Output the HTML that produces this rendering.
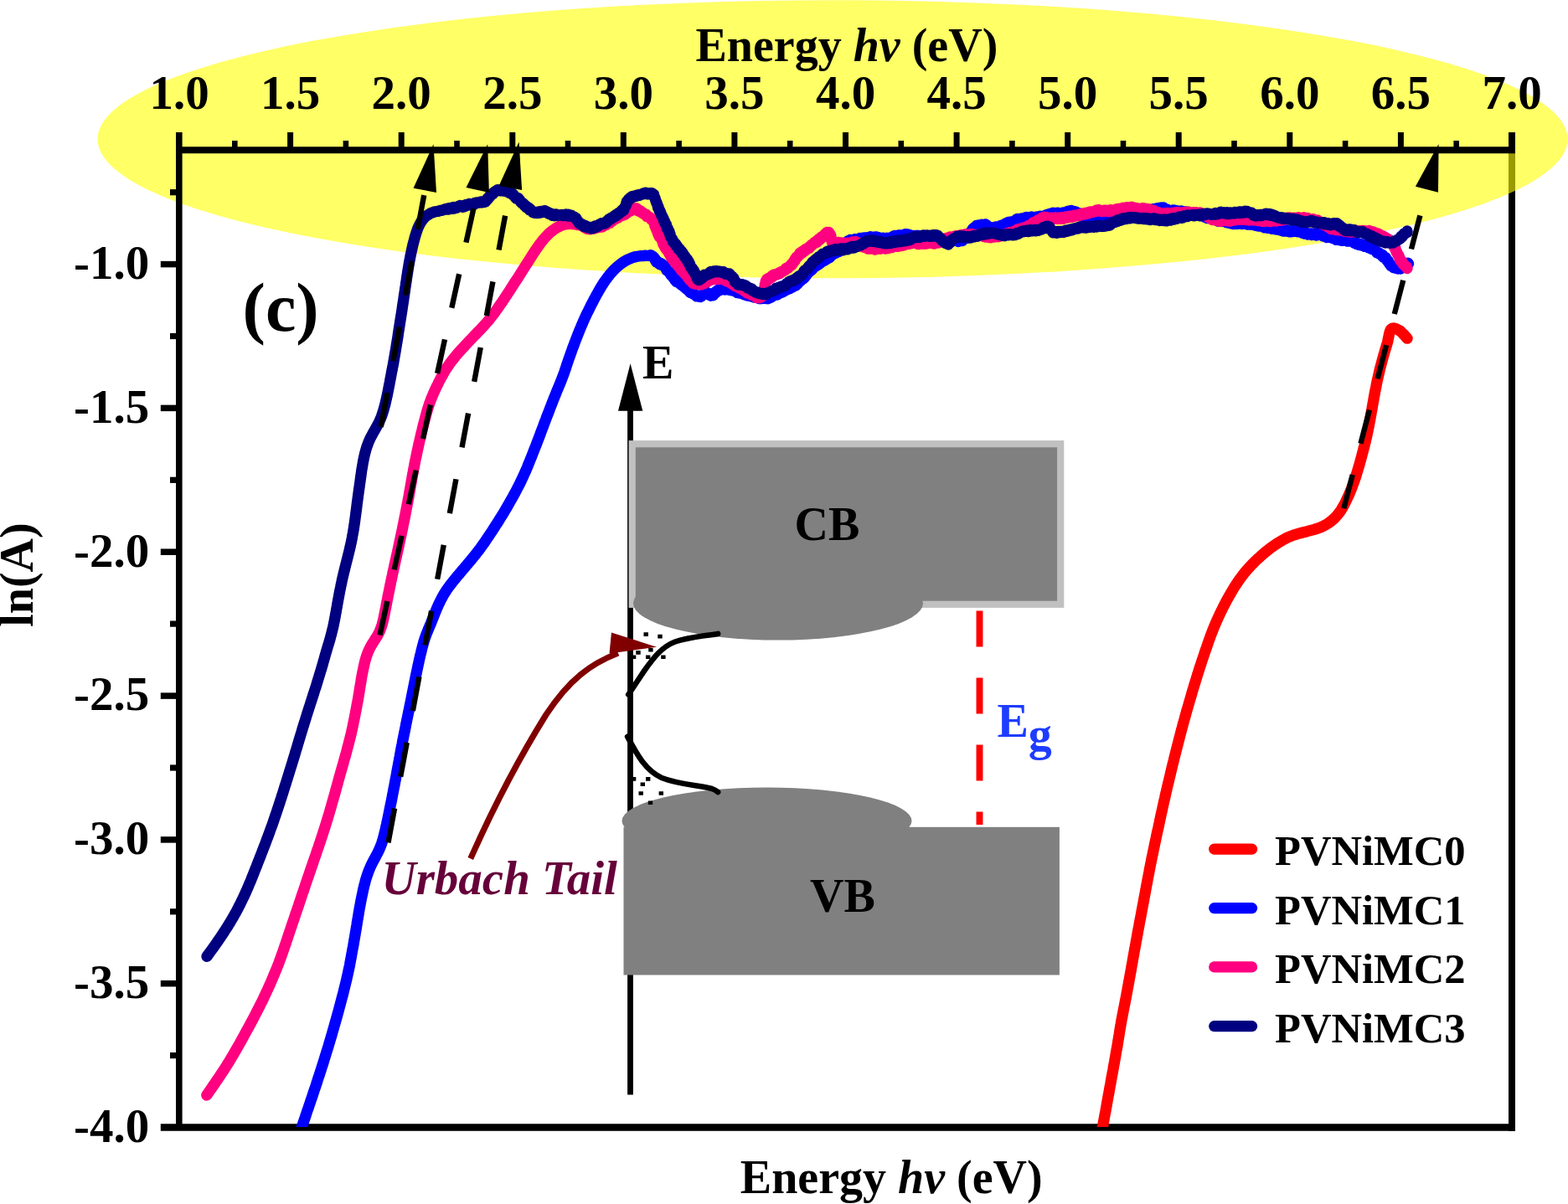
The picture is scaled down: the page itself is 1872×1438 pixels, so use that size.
<!DOCTYPE html>
<html lang="en">
<head>
<meta charset="utf-8">
<title>ln(A) - Energy hv (eV)</title>
<style>
html,body{margin:0;padding:0;background:#fff;}
body{width:1872px;height:1438px;overflow:hidden;}
svg{display:block;font-family:"Liberation Serif","Times New Roman",serif;font-weight:bold;}
text{font-size:56px;fill:#000;}
.lg{font-size:50.6px;}
.tk{font-size:57px;}
.cv{fill:none;stroke-linecap:round;stroke-linejoin:round;stroke-width:13.3;}
.ar{fill:none;stroke:#000;stroke-width:6.4;stroke-dasharray:41.5 38.5;}
</style>
</head>
<body>
<svg width="1872" height="1438" viewBox="0 0 1872 1438">
<defs><clipPath id="plot"><rect x="210" y="175" width="1599" height="1171"/></clipPath></defs>
<rect x="0" y="0" width="1872" height="1438" fill="#fff"/>
<g id="axes-under" stroke="#000" fill="none">
<line x1="1805" y1="175.2" x2="1805" y2="1350.8" stroke-width="8"/>
<line x1="191.8" y1="1346.5" x2="1809" y2="1346.5" stroke-width="8.6"/>
</g>
<ellipse id="hl" cx="994" cy="166.2" rx="877.5" ry="166" fill="#ffff00" fill-opacity="0.6"/>
<g id="axes-over" stroke="#000" fill="none">
<line x1="210.3" y1="179.2" x2="1809" y2="179.2" stroke-width="8"/>
<line x1="213.8" y1="158" x2="213.8" y2="1350" stroke-width="7.6"/>
<line x1="280.3" y1="168" x2="280.3" y2="179" stroke-width="6.6"/>
<line x1="346.6" y1="158" x2="346.6" y2="179" stroke-width="7"/>
<line x1="412.9" y1="168" x2="412.9" y2="179" stroke-width="6.6"/>
<line x1="479.2" y1="158" x2="479.2" y2="179" stroke-width="7"/>
<line x1="545.5" y1="168" x2="545.5" y2="179" stroke-width="6.6"/>
<line x1="611.8" y1="158" x2="611.8" y2="179" stroke-width="7"/>
<line x1="678" y1="168" x2="678" y2="179" stroke-width="6.6"/>
<line x1="744.3" y1="158" x2="744.3" y2="179" stroke-width="7"/>
<line x1="810.6" y1="168" x2="810.6" y2="179" stroke-width="6.6"/>
<line x1="876.9" y1="158" x2="876.9" y2="179" stroke-width="7"/>
<line x1="943.2" y1="168" x2="943.2" y2="179" stroke-width="6.6"/>
<line x1="1009.5" y1="158" x2="1009.5" y2="179" stroke-width="7"/>
<line x1="1075.8" y1="168" x2="1075.8" y2="179" stroke-width="6.6"/>
<line x1="1142.1" y1="158" x2="1142.1" y2="179" stroke-width="7"/>
<line x1="1208.4" y1="168" x2="1208.4" y2="179" stroke-width="6.6"/>
<line x1="1274.7" y1="158" x2="1274.7" y2="179" stroke-width="7"/>
<line x1="1341" y1="168" x2="1341" y2="179" stroke-width="6.6"/>
<line x1="1407.2" y1="158" x2="1407.2" y2="179" stroke-width="7"/>
<line x1="1473.5" y1="168" x2="1473.5" y2="179" stroke-width="6.6"/>
<line x1="1539.8" y1="158" x2="1539.8" y2="179" stroke-width="7"/>
<line x1="1606.1" y1="168" x2="1606.1" y2="179" stroke-width="6.6"/>
<line x1="1672.4" y1="158" x2="1672.4" y2="179" stroke-width="7"/>
<line x1="1738.7" y1="168" x2="1738.7" y2="179" stroke-width="6.6"/>
<line x1="1805" y1="158" x2="1805" y2="179" stroke-width="8"/>
<line x1="203" y1="229.7" x2="214" y2="229.7" stroke-width="7.2"/>
<line x1="191.8" y1="315.6" x2="214" y2="315.6" stroke-width="7.5"/>
<line x1="203" y1="401.5" x2="214" y2="401.5" stroke-width="7.2"/>
<line x1="191.8" y1="487.4" x2="214" y2="487.4" stroke-width="7.5"/>
<line x1="203" y1="573.3" x2="214" y2="573.3" stroke-width="7.2"/>
<line x1="191.8" y1="659.2" x2="214" y2="659.2" stroke-width="7.5"/>
<line x1="203" y1="745.1" x2="214" y2="745.1" stroke-width="7.2"/>
<line x1="191.8" y1="831.1" x2="214" y2="831.1" stroke-width="7.5"/>
<line x1="203" y1="917" x2="214" y2="917" stroke-width="7.2"/>
<line x1="191.8" y1="1002.9" x2="214" y2="1002.9" stroke-width="7.5"/>
<line x1="203" y1="1088.8" x2="214" y2="1088.8" stroke-width="7.2"/>
<line x1="191.8" y1="1174.7" x2="214" y2="1174.7" stroke-width="7.5"/>
<line x1="203" y1="1260.6" x2="214" y2="1260.6" stroke-width="7.2"/>
</g>
<g id="inset">
<line x1="752.5" y1="488" x2="752.5" y2="1307.5" stroke="#000" stroke-width="6.8"/>
<polygon points="752.6,434.2 767.3,490.8 738,490.8" fill="#000"/>
<rect x="754.7" y="530.2" width="511.5" height="191.6" fill="#808080" stroke="#c0c0c0" stroke-width="8.2"/>
<ellipse cx="929" cy="720.5" rx="173" ry="44" fill="#808080"/>
<rect x="744.5" y="987.8" width="520.4" height="176.7" fill="#808080"/>
<ellipse cx="915.5" cy="980.5" rx="173" ry="40" fill="#808080"/>
<path d="M857.1 756.9C838 760 820 761.5 806 766.5C790 772.5 780 786 770 800C763 810 757 820 750.2 829.6" fill="none" stroke="#000" stroke-width="6.6" stroke-linecap="round"/>
<path d="M749.1 879.8C760 900 770 920 790 929C810 937 835 938 850 942C854 943.5 856 945 857.1 946" fill="none" stroke="#000" stroke-width="6.6" stroke-linecap="round"/>
<path d="M768.5 755.3h5.4v4.6h-5.4zM785.3 757.8h5.4v4.6h-5.4zM759.3 777.1h5.4v4.6h-5.4zM774.2 773.9h5.4v4.6h-5.4zM753.9 782.4h5.4v4.6h-5.4zM771 782.4h5.4v4.6h-5.4zM789.2 782.4h5.4v4.6h-5.4zM753.9 928.1h5.4v4.6h-5.4zM771 928.1h5.4v4.6h-5.4zM764.6 934.5h5.4v4.6h-5.4zM762.5 945.2h5.4v4.6h-5.4zM786.6 945.2h5.4v4.6h-5.4zM773.8 956.5h5.4v4.6h-5.4z" fill="#000"/>
<line x1="1169.5" y1="729.6" x2="1169.5" y2="985" stroke="#ff0000" stroke-width="7.9" stroke-dasharray="43 37"/>
<path d="M561.8 1025.5C590 962 620 905 652 853.5C680 811 705 793 738 780" fill="none" stroke="#800000" stroke-width="7.2"/>
<polygon points="730,755.5 784,772.7 727.5,780.5" fill="#800000"/>
</g>
<g id="curves" clip-path="url(#plot)">
<path class="cv" stroke="#ff0000" d="M1313.5 1360L1313.7 1359.1L1314.3 1356.5L1314.8 1353.7L1315.4 1351L1316 1348.1L1316.6 1345L1317.1 1342.1L1317.7 1339.2L1318.2 1336.3L1318.7 1333.4L1319.2 1330.6L1319.8 1327.8L1320.3 1324.8L1320.9 1321.7L1321.4 1318.6L1322 1315.3L1322.6 1312L1323.2 1308.6L1323.9 1305.2L1324.5 1301.7L1325.1 1298.2L1325.8 1294.7L1326.4 1291.2L1327 1287.7L1327.6 1284.3L1328.3 1280.9L1328.9 1277.6L1329.4 1274.4L1330 1271.2L1330.6 1268.2L1331.1 1265.2L1331.6 1262.3L1332.1 1259.5L1332.6 1256.5L1333.1 1253.6L1333.7 1250.6L1334.2 1247.5L1334.7 1244.3L1335.2 1241.2L1335.7 1238.2L1336.2 1235.3L1336.6 1232.6L1337 1230.1L1337.4 1227.6L1337.8 1225.1L1338.3 1222.6L1338.7 1220L1339.2 1217.3L1339.8 1214.5L1340.3 1211.6L1340.9 1208.6L1341.5 1205.5L1342.1 1202.5L1342.7 1199.4L1343.3 1196.4L1343.9 1193.4L1344.5 1190.4L1345 1187.4L1345.6 1184.4L1346.1 1181.4L1346.7 1178.4L1347.2 1175.4L1347.8 1172.4L1348.3 1169.4L1348.9 1166.3L1349.4 1163.3L1350 1160.3L1350.5 1157.3L1351 1154.2L1351.6 1151.3L1352.1 1148.3L1352.6 1145.3L1353.2 1142.3L1353.7 1139.3L1354.2 1136.3L1354.8 1133.3L1355.3 1130.3L1355.9 1127.2L1356.4 1124.2L1357 1121.2L1357.5 1118.1L1358.1 1115.1L1358.6 1112.1L1359.2 1109L1359.8 1106L1360.3 1102.9L1360.9 1099.9L1361.5 1096.8L1362.1 1093.7L1362.7 1090.6L1363.2 1087.5L1363.8 1084.4L1364.4 1081.3L1365 1078.2L1365.6 1075.1L1366.1 1072L1366.7 1069L1367.3 1065.9L1367.9 1062.8L1368.4 1059.7L1369 1056.6L1369.6 1053.6L1370.1 1050.5L1370.7 1047.5L1371.3 1044.5L1371.9 1041.4L1372.4 1038.4L1373 1035.5L1373.6 1032.5L1374.2 1029.6L1374.8 1026.6L1375.4 1023.7L1376 1020.8L1376.6 1017.9L1377.2 1015L1377.8 1012.1L1378.4 1009.2L1379 1006.2L1379.7 1003.3L1380.3 1000.3L1380.9 997.3L1381.6 994.3L1382.2 991.4L1382.9 988.4L1383.5 985.4L1384.2 982.4L1384.8 979.4L1385.5 976.3L1386.1 973.3L1386.8 970.3L1387.5 967.3L1388.1 964.3L1388.8 961.3L1389.4 958.3L1390.1 955.4L1390.8 952.4L1391.4 949.5L1392.1 946.5L1392.8 943.5L1393.5 940.5L1394.2 937.5L1394.9 934.6L1395.6 931.7L1396.3 928.8L1397 926L1397.6 923.1L1398.3 920.3L1399 917.4L1399.7 914.5L1400.4 911.6L1401.2 908.6L1401.9 905.6L1402.6 902.7L1403.4 899.7L1404.1 896.7L1404.9 893.8L1405.6 890.9L1406.4 888L1407.1 885.1L1407.8 882.3L1408.6 879.5L1409.3 876.7L1410 873.9L1410.8 871.1L1411.5 868.4L1412.2 865.6L1413 862.8L1413.8 860L1414.6 857.1L1415.4 854.2L1416.2 851.3L1417 848.3L1417.9 845.3L1418.8 842.4L1419.6 839.4L1420.5 836.4L1421.4 833.4L1422.2 830.5L1423.1 827.5L1423.9 824.6L1424.8 821.8L1425.6 818.9L1426.5 816.1L1427.4 813.3L1428.2 810.5L1429.1 807.7L1429.9 805L1430.8 802.2L1431.7 799.4L1432.6 796.5L1433.6 793.7L1434.5 790.8L1435.4 788L1436.4 785.1L1437.4 782.3L1438.3 779.4L1439.3 776.5L1440.3 773.7L1441.3 770.8L1442.3 767.9L1443.3 765L1444.4 762.1L1445.4 759.2L1446.5 756.3L1447.6 753.5L1448.7 750.7L1449.8 748L1451 745.3L1452.1 742.6L1453.3 740L1454.5 737.3L1455.7 734.7L1456.9 732.1L1458.2 729.5L1459.5 726.9L1460.8 724.2L1462.2 721.6L1463.5 719L1464.9 716.4L1466.4 713.8L1467.8 711.2L1469.3 708.6L1470.8 706.1L1472.3 703.5L1473.8 701.1L1475.4 698.6L1477 696.2L1478.6 693.8L1480.3 691.4L1482 689.1L1483.8 686.7L1485.6 684.4L1487.5 682.2L1489.4 679.9L1491.4 677.7L1493.5 675.4L1495.6 673.3L1497.7 671.1L1499.9 669L1502.1 666.9L1504.4 664.9L1506.6 662.9L1508.9 660.9L1511.2 659L1513.6 657.1L1515.9 655.3L1518.3 653.5L1520.8 651.8L1523.2 650.1L1525.8 648.4L1528.4 646.8L1531.1 645.2L1533.8 643.7L1536.6 642.3L1539.5 641L1542.4 639.9L1545.4 638.8L1548.4 637.9L1551.4 637L1554.4 636.2L1557.5 635.4L1560.5 634.7L1563.4 633.9L1566.4 633.1L1569.2 632.3L1572 631.4L1574.8 630.4L1577.5 629.4L1580.1 628.2L1582.6 626.9L1585.1 625.4L1587.4 623.8L1589.7 622L1591.9 620.1L1594 618.1L1596 615.9L1597.9 613.6L1599.7 611.2L1601.4 608.7L1603 606L1604.5 603.4L1605.9 600.6L1607.2 597.9L1608.5 595.2L1609.8 592.4L1611 589.7L1612.1 587L1613.2 584.4L1614.2 581.7L1615.2 579L1616.2 576.3L1617.1 573.6L1618.1 570.9L1619 568.1L1619.8 565.3L1620.7 562.5L1621.5 559.7L1622.4 556.8L1623.2 553.9L1624 551L1624.8 548.2L1625.6 545.3L1626.3 542.4L1627.1 539.6L1627.8 536.7L1628.6 533.9L1629.3 531.1L1630 528.2L1630.7 525.3L1631.4 522.4L1632 519.5L1632.7 516.5L1633.3 513.5L1633.9 510.5L1634.5 507.4L1635.1 504.3L1635.7 501.3L1636.2 498.2L1636.8 495.1L1637.3 492L1637.9 489L1638.4 485.9L1638.9 482.9L1639.5 479.9L1640 476.9L1640.5 473.9L1641.1 470.9L1641.6 467.9L1642.2 465L1642.8 462L1643.3 459.1L1643.9 456.3L1644.6 453.4L1645.2 450.6L1645.8 447.8L1646.5 445L1647.1 442.2L1647.8 439.4L1648.6 436.5L1649.4 433.5L1650.2 430.6L1651 427.6L1651.8 424.6L1652.7 421.6L1653.5 418.7L1654.4 416L1655.2 413.2L1656 410.6L1656.6 408.5L1656.9 407.2L1657.2 405.3L1657.7 403.1L1658.2 400.7L1658.7 398.2L1659.4 396L1660.1 394.2L1660.9 393L1662.5 392.1L1664.4 392L1666.4 392.6L1668.5 393.5L1670.5 394.6L1672 395.6L1673.5 397L1675.1 398.7L1676.7 400.3L1678.1 401.9L1679.2 403.3L1680.1 404.2"/>
<path class="cv" stroke="#0000ff" d="M356 1360L356.6 1358.1L357.4 1355.3L358.3 1352.5L359.2 1349.8L360.2 1346.9L361.1 1343.9L362.1 1341.1L363 1338.2L364 1335.4L365 1332.5L365.9 1329.6L366.9 1326.7L368 1323.7L369 1320.6L370.1 1317.5L371.1 1314.3L372.2 1311.2L373.3 1308L374.3 1304.9L375.3 1301.8L376.4 1298.8L377.4 1295.7L378.4 1292.7L379.3 1289.7L380.3 1286.7L381.3 1283.8L382.2 1280.8L383.2 1277.8L384.1 1274.9L385.1 1272L386 1269L386.9 1266.1L387.8 1263.2L388.7 1260.3L389.6 1257.4L390.5 1254.5L391.4 1251.6L392.3 1248.7L393.1 1245.9L394 1243L394.8 1240.2L395.7 1237.3L396.5 1234.5L397.3 1231.6L398.1 1228.8L398.9 1226L399.7 1223.2L400.5 1220.4L401.3 1217.6L402.1 1214.8L402.8 1212.1L403.6 1209.3L404.4 1206.5L405.1 1203.7L405.9 1200.9L406.6 1198L407.4 1195.2L408.1 1192.4L408.9 1189.6L409.6 1186.8L410.3 1184L411 1181.2L411.7 1178.3L412.4 1175.5L413.1 1172.7L413.8 1169.8L414.4 1166.9L415.1 1164L415.7 1161.1L416.3 1158.1L417 1155.2L417.6 1152.2L418.1 1149.2L418.7 1146.1L419.3 1143.1L419.8 1140.1L420.4 1137L420.9 1134L421.5 1131L422 1128.1L422.5 1125.1L423 1122.2L423.5 1119.3L424 1116.4L424.5 1113.4L425 1110.5L425.5 1107.5L426 1104.5L426.4 1101.6L426.9 1098.7L427.4 1095.8L427.9 1093L428.3 1090.1L428.8 1087.3L429.3 1084.4L429.9 1081.5L430.4 1078.5L431 1075.5L431.6 1072.5L432.2 1069.4L432.9 1066.4L433.5 1063.3L434.2 1060.3L434.9 1057.3L435.7 1054.4L436.4 1051.5L437.3 1048.6L438.2 1045.7L439.2 1042.9L440.2 1040.1L441.4 1037.3L442.6 1034.5L443.9 1031.8L445.3 1029.1L446.7 1026.4L448.2 1023.7L449.6 1021L451 1018.4L452.3 1015.7L453.5 1013L454.6 1010.3L455.6 1007.6L456.5 1004.8L457.3 1002L458.1 999.2L458.8 996.3L459.5 993.4L460.2 990.5L460.8 987.6L461.5 984.7L462.1 981.9L462.7 979.1L463.3 976.2L463.9 973.3L464.5 970.4L465.1 967.4L465.7 964.4L466.3 961.3L467 958.2L467.6 955L468.2 951.9L468.8 948.8L469.4 945.7L470 942.6L470.6 939.6L471.2 936.6L471.7 933.6L472.3 930.6L472.8 927.7L473.4 924.7L473.9 921.6L474.5 918.6L475.1 915.6L475.6 912.6L476.2 909.6L476.7 906.5L477.3 903.5L477.8 900.6L478.4 897.6L478.9 894.6L479.5 891.7L480.1 888.7L480.6 885.7L481.2 882.8L481.8 879.8L482.4 876.9L483 873.9L483.6 871L484.2 868.1L484.7 865.2L485.3 862.3L485.9 859.4L486.5 856.5L487.1 853.6L487.7 850.7L488.3 847.8L488.9 844.9L489.5 841.9L490.1 839L490.7 836L491.3 833L491.9 830L492.5 827L493.1 824L493.7 821L494.3 818L494.9 815L495.5 812L496.1 809.1L496.7 806.2L497.3 803.4L497.9 800.5L498.5 797.6L499.1 794.7L499.8 791.7L500.4 788.7L501.1 785.6L501.8 782.6L502.6 779.6L503.3 776.6L504 773.7L504.8 770.8L505.5 768.1L506.3 765.4L507.2 762.7L508.1 760.1L509 757.5L510.1 754.9L511.1 752.3L512.2 749.8L513.3 747.2L514.4 744.6L515.4 741.9L516.5 739.3L517.6 736.5L518.7 733.8L519.8 731L520.9 728.2L522.1 725.5L523.3 722.7L524.6 720L525.9 717.3L527.3 714.6L528.7 712L530.2 709.4L531.8 706.9L533.4 704.4L535.2 701.9L536.9 699.5L538.8 697.1L540.7 694.7L542.6 692.3L544.5 690L546.5 687.6L548.5 685.3L550.4 683L552.4 680.6L554.4 678.3L556.3 676L558.3 673.7L560.3 671.3L562.2 669L564.2 666.6L566.1 664.2L568.1 661.8L570 659.3L571.8 656.9L573.7 654.4L575.5 651.9L577.3 649.4L579 646.9L580.8 644.3L582.5 641.8L584.2 639.3L585.9 636.7L587.6 634.2L589.2 631.7L590.8 629.2L592.4 626.6L594 624.2L595.6 621.7L597.2 619.1L598.7 616.6L600.3 614.1L601.8 611.6L603.3 609L604.8 606.5L606.3 603.9L607.8 601.3L609.2 598.7L610.7 596.1L612.2 593.5L613.6 590.9L615.1 588.2L616.5 585.5L617.9 582.8L619.3 580.1L620.7 577.4L622 574.6L623.3 571.9L624.6 569.1L625.8 566.4L627.1 563.6L628.3 560.8L629.5 558L630.6 555.2L631.8 552.4L632.9 549.5L634.1 546.7L635.2 543.9L636.3 541L637.4 538.2L638.5 535.3L639.7 532.5L640.8 529.6L641.9 526.7L643 523.8L644.1 521L645.2 518.1L646.2 515.2L647.3 512.4L648.4 509.6L649.4 506.8L650.5 503.9L651.6 501.1L652.6 498.3L653.7 495.5L654.8 492.7L655.9 489.9L656.9 487.1L658 484.4L659 481.7L660.1 479L661.1 476.3L662.2 473.7L663.3 471L664.3 468.4L665.4 465.7L666.5 463.1L667.6 460.4L668.7 457.8L669.8 455.2L670.8 452.5L671.8 449.9L672.8 447.2L673.8 444.5L674.7 441.7L675.7 438.9L676.6 436L677.6 433.1L678.6 430.2L679.6 427.3L680.6 424.5L681.6 421.7L682.6 418.8L683.6 416L684.7 413.2L685.7 410.4L686.8 407.5L687.9 404.7L689 401.8L690.1 399L691.3 396.1L692.4 393.3L693.6 390.5L694.8 387.6L696 384.8L697.3 382L698.5 379.2L699.8 376.4L701.1 373.7L702.5 371L703.8 368.3L705.1 365.6L706.5 362.9L707.9 360.3L709.2 357.6L710.7 355L712.1 352.3L713.6 349.7L715.1 347L716.6 344.4L718.1 341.9L719.7 339.4L721.3 336.9L723 334.5L724.7 332.2L726.4 329.9L728.3 327.6L730.1 325.5L732.1 323.3L734.1 321.3L736.2 319.3L738.3 317.5L740.6 315.6L743 313.9L745.4 312.3L748 310.8L750.7 309.5L753.5 308.3L756.4 307.3L759.4 306.5L762.5 306L765.6 305.7L766.4 305.7L767 305.7L767.4 305.6L768.6 305.5L769.4 305.3L770.3 305.2L771.2 305.3L772.4 305.4L773.4 305.4L774.8 305.4L775.9 305.5L776.7 304.7L777.6 305.1L778.1 305.8L779 306L780 306.8L780.2 307L781.1 308L781.5 308.6L781.7 309.6L782.5 309.8L783 311.9L783.5 312.6L783.6 313L784.8 312.4L785.1 313.2L785.9 313.8L786.5 314.8L786.9 313.6L787.7 314L788.4 316.1L789.6 314.7L790.2 315.6L790.8 316.1L791.8 317.1L792.4 316.9L793.1 317.6L794 319.7L794.5 319.2L794.9 320.5L795.7 322.2L796.1 323.1L796.8 322.9L797.2 323.5L798 323.9L798.5 324.6L798.8 325.3L799.7 325L800.1 326.4L800.9 328.2L801.2 328.8L802 328.3L802.4 328.7L803.2 330.5L803.8 331.6L804.2 332.3L804.7 331.8L805.5 332.5L805.9 334.9L806.5 334.3L807.3 336.3L808 335L809.1 335.6L809.8 337.1L810.5 338L811 338.1L811.4 338.6L812.4 339.2L812.9 339.9L814.1 339.2L814.5 340.8L815.6 340.9L815.8 341.4L816.8 342.8L817.3 342.5L818 343L818.7 343L819.5 345.3L820.2 345.5L820.8 346.1L821.9 346.8L822.4 347.1L823.2 348.6L823.7 347.6L824.7 349.7L825.2 349.2L826 349.1L826.4 349.5L827.2 350L827.5 351.1L828.5 350.8L829.4 351.9L830.4 352.9L830.8 352.7L831.4 353.7L832.2 353.4L832.9 353.8L833.9 353.5L834.9 354.2L835.4 354L836.3 354.5L836.9 353.4L837.8 353.6L838.4 352.7L839.6 351.6L840 350.5L841.1 350.8L842 350.7L842.3 349.1L843.1 349L844.2 350.5L845.1 349.8L845.8 350.6L846.2 352.1L846.7 351.5L847.9 352.4L848.5 353.3L849.7 352L850.1 352.7L850.8 351.9L851.5 352.8L852.1 351.3L852.6 350L853.7 348.9L854.5 349.7L854.8 348.9L855.7 348.1L856.7 346.7L857.4 347L858.3 345.9L859 347L859.7 346L860.1 345.6L861.1 345.7L862.2 345.3L862.7 345.3L863.8 344.4L864.8 345.4L865.2 346L866.1 344.9L867.3 345.6L868.1 345.8L869 345.3L869.7 344.9L871 346.4L871.7 346.5L872.4 345.6L873.2 346.9L873.8 346.3L874.8 347L875.6 346.5L876.5 347.4L877.6 347.4L878.5 347.4L879 347.8L879.8 349.6L881.1 348.6L881.7 349.2L883 350.1L883.9 349.8L884.4 349.6L885.2 349.9L886.2 349.6L886.9 351.1L887.6 351.4L888.9 352L889.5 351.6L890.5 352.1L891.6 352.5L892 353.1L893 352.9L894.1 352L895 353.6L895.7 353.6L896.5 353.1L897.4 353L898.3 354.4L899.1 354.4L900.3 355.2L900.7 355.1L901.9 353.9L902.6 354.5L903.4 355.3L904.8 355.1L905.7 356.1L906.2 356.6L907.4 356.8L908.4 356.4L909.1 356.5L910.3 356.6L910.9 356.3L911.8 354.9L912.4 355L913.3 355.3L914.3 356.5L915.1 356.1L915.9 355.9L916.8 356.8L917.6 355.3L918.8 356.1L919.2 355L920.1 355.1L920.7 353.5L921.4 354.6L922.1 353.7L922.9 352.9L923.6 353L924.5 351.9L925.3 351.9L926.5 351.4L926.9 351.9L927.9 352.1L928.5 351.2L929.5 350.1L930.6 350.2L930.9 350.3L931.8 350.1L932.8 348.6L933.5 349.2L934.5 348.8L935.5 348.5L936.2 346.6L937.1 347.3L938.2 346L938.7 346.3L940.1 345.7L940.4 344.1L941.3 344L942 343.3L943.1 344.6L943.6 344.3L944.5 343.4L945.6 343.2L945.8 341.5L947 342.4L947.4 340.8L948.7 340.1L949.2 340.1L950.1 341L950.6 340.2L951.6 339.7L952.3 339.2L952.9 337.4L953.5 337.4L954.4 335.7L954.9 335.9L955.8 335.4L956.3 334.5L956.9 334.3L957.6 333.3L958.7 333.1L958.9 331.7L960 331.8L960.6 331.5L961 330.8L961.7 329L962.1 327.7L962.7 328.8L963.1 327.4L963.7 325.9L964.6 325.6L964.9 324.9L965.9 325.2L966.1 323.9L967.4 323.2L967.8 323L968.6 322.7L969.3 322L969.6 320.6L970.2 321.3L970.9 319.1L972.1 318.8L972.8 318L973.2 317.7L974.1 317.9L974.7 317.6L975.6 316.2L976.2 315.9L976.6 316.1L977.7 315.6L978.2 314.5L979.1 314.4L979.6 313L980.6 312L981.4 312.8L982 312L982.9 310.6L983.5 311.7L984.3 310.1L985 309.2L985.8 310.2L987 309.6L987.9 308.7L988.7 308.1L989.2 308.3L990.2 307.7L990.8 306.8L991.5 306.7L992.5 304.8L993.2 304L993.4 304.7L994.2 303.9L995.1 302.6L996 302.5L996.6 302.2L997.6 302.5L998.1 300.7L998.8 300.8L999.3 299.8L1000.4 300.4L1001.2 300.5L1001.8 298.8L1002 298.3L1002.8 298.3L1003.6 297.5L1004.5 296.8L1005 297.5L1005.8 295.9L1006.1 296.2L1006.6 294.2L1007.5 294.4L1007.9 292.7L1008.5 293.4L1009.2 293.1L1010.1 292.4L1010.3 290.1L1010.9 289.8L1011.8 288.3L1012.7 287.7L1013.3 287.3L1014.5 287.4L1015.1 286.3L1016.2 287.3L1017 287.8L1017.8 286.4L1018.2 287.3L1019.5 286.6L1020.3 286.5L1020.9 285.6L1021.7 286.4L1023.1 286.7L1023.9 286.1L1025.1 286.2L1025.9 285.2L1026.8 284.5L1027.6 285.4L1029.1 285L1029.7 284.4L1030.7 285.1L1031.7 285.2L1032.4 283.8L1033.6 283.8L1034.6 284.4L1035.5 283.8L1035.8 283.7L1036.9 283.5L1037.5 283.9L1039 282.7L1039.9 283.3L1040.9 284.4L1042.1 283.8L1042.5 284.3L1043.3 283.2L1044.5 283.1L1045 284.3L1046.2 283.1L1046.6 283.3L1047.3 283.6L1048.6 283.5L1049 284L1049.7 284.9L1051.1 285.8L1051.9 285.7L1052.5 284.7L1054 284.3L1054.5 285.2L1055.4 285.3L1056.2 284.7L1057.7 284.5L1058.6 284.5L1059.6 285.5L1060.3 284.3L1060.8 285.4L1061.8 284.2L1063 285.3L1063.4 285.3L1064.5 283.8L1065.1 283.4L1066.4 282.7L1066.7 282L1067.4 282.2L1068.6 281.4L1069 282.9L1070.3 282.7L1070.6 281.3L1071.9 281.5L1072.7 280.9L1073.2 280.8L1074.4 281.7L1075.1 281L1075.9 281L1076.8 281.8L1077.4 281.1L1078.7 281.4L1079.2 281.5L1080.5 279.7L1081.1 279.7L1081.8 281.1L1083 281.2L1083.7 279.8L1085.1 281.6L1086.1 281.7L1086.7 282.1L1087.4 282L1088.5 281.2L1089.4 281.5L1090.2 281.6L1090.9 281.5L1091.9 282.7L1092.9 282.4L1093.7 281.3L1094.6 281.3L1094.9 281.7L1096.1 281.4L1096.9 281.3L1097.9 281.7L1098.5 282L1099.7 283L1100.4 282.1L1101.4 281.5L1102.3 283.2L1103.6 281.8L1104.4 282.7L1105.3 282.9L1105.6 283.5L1106.8 283.5L1107.7 284.3L1108.3 283.7L1109.2 284.1L1110 284.8L1111.3 284.8L1111.7 284.2L1112.8 285.2L1113.6 284.3L1114.6 284.6L1115.4 285L1116.9 285L1117.7 285.5L1118.7 285.5L1119.4 285L1120.2 285.7L1121.3 285.1L1122.5 285L1123 286.3L1124.2 285.1L1124.7 285.9L1125.6 286.8L1126.6 285.6L1127.7 286L1128.6 286.2L1129.7 285.8L1130.3 286.8L1131.6 285.3L1132.4 287L1133.7 285.9L1134.1 287L1135.3 288.1L1136.5 287.2L1137.2 287.7L1138.4 286.9L1139 286.6L1140 286.4L1141.1 287.3L1141.7 286.3L1142.3 287.2L1143.5 287.5L1143.9 288.5L1144.9 287.6L1145.3 287.2L1146.4 286.9L1147.2 287.6L1148.1 287.6L1149.3 287.4L1150.1 285.6L1150.4 285.6L1151.3 284.6L1152.4 283.9L1153 284.6L1153.2 283.8L1154 281.6L1154.5 280.5L1155.2 280.5L1156 280.9L1156.1 279.6L1156.9 278.8L1157.6 278.3L1158.6 277.9L1158.9 277L1159.6 276.8L1160.1 276.1L1160.6 275.1L1161.4 273.3L1162.1 272.9L1162.6 272.5L1163.4 271.5L1163.8 271.6L1165.1 270.6L1165.7 269.7L1166.8 270.2L1167.2 270L1168.6 269L1169.6 269.1L1170.1 269.5L1171.1 269.5L1172.2 268.2L1173.1 269.7L1173.9 268.9L1175 268.5L1175.6 268.7L1176.7 267.9L1177 269.3L1178 268.8L1178.8 270.6L1179.2 271.5L1180.1 271.7L1180.5 270.8L1181.7 272.7L1182.6 272.5L1184 272.1L1184.8 272.7L1185.3 271.7L1186.1 272.1L1187 271.6L1187.6 271.5L1188.4 272.1L1189.1 270.9L1190.3 271L1191.2 270.6L1191.9 271.1L1193.3 271.5L1194.1 270.1L1194.8 269.4L1195.9 270.3L1196.7 269.8L1197.9 268.3L1198.8 268.9L1199.7 267.7L1200.8 266.6L1201.5 267.8L1202.7 267L1203.6 265.4L1204.3 266.3L1204.8 265.7L1206.3 265.3L1207.1 264.8L1208 264.9L1208.7 265L1209.8 265.6L1210.4 264.9L1211.2 264.7L1211.9 263.6L1212.9 262.8L1213.4 261.9L1214.5 261.5L1215.4 261.9L1216.3 262.5L1217 261.4L1217.5 261.7L1218.8 262.3L1219.4 260.8L1220.8 261.7L1221.3 261.5L1221.9 261L1223.1 261L1223.7 260L1224.8 261.4L1225.4 259.4L1226.3 260.8L1227.4 260L1228.7 260.2L1229.2 260.2L1230 259.2L1231.3 259L1231.9 259.7L1233 260.6L1233.7 260.3L1234.8 260.3L1235.8 260L1236.6 259.1L1237.5 260.2L1238.3 259L1239.2 258.7L1239.9 259.6L1241 259.5L1241.9 258.2L1242.7 258.6L1243.7 258.9L1244.7 259.1L1245.8 258.6L1246.8 258.1L1247.5 257.4L1248.1 258.1L1249.3 256.4L1250.4 257.1L1251 256.6L1251.6 257.4L1252.4 255.9L1253.8 255.2L1254.3 255.7L1254.9 256.5L1256 254.5L1257 254.3L1258.1 256L1259.2 254.3L1259.9 254.7L1260.7 254.7L1261.5 254.3L1262.6 254.2L1263.7 254.2L1264.6 254.5L1264.9 255.7L1266.1 255.7L1267 255.5L1267.6 255.6L1268.8 255.9L1269.3 253.8L1270.6 255.2L1271.3 254.5L1272.2 253.5L1273 253.6L1273.6 252.8L1274.9 252.4L1275.6 252.2L1276.4 252.8L1277.5 253.3L1278.2 251.7L1279 251.5L1279.8 252.6L1280.9 252.1L1281.4 252.1L1282.2 253.2L1283.1 254.3L1284 253.4L1284.8 253L1285.7 254.7L1286.3 255L1287.1 254.3L1287.8 254.6L1288.9 256L1289.7 255.4L1290.6 256.6L1291.1 257.1L1292 256.9L1292.7 258.2L1293.7 259.2L1294.3 259.6L1295.5 259.8L1296.4 259.1L1297.1 261.1L1297.5 261L1298.8 260.5L1299.5 261.9L1300.1 260.5L1300.8 262L1301.8 261.1L1302.6 262.4L1303.4 260.7L1304.7 261.4L1305.4 262.8L1306.3 261.1L1307.4 261.5L1307.9 262.9L1308.7 262.6L1309.6 261.2L1310.4 261.5L1311.5 260.9L1312.4 260.5L1313.5 261.4L1314.4 261.2L1314.9 260L1315.9 259.8L1317.3 261.2L1318.2 260.5L1318.7 260.1L1319.6 261L1320.6 259.6L1321.9 259.4L1322.8 259.5L1323.6 259L1324.6 259.5L1325.2 259.8L1326.2 258.7L1326.8 259.1L1327.7 259.5L1328.7 257.8L1329.6 257.5L1330.5 258.4L1331.4 258L1332.2 258.4L1333.4 258.4L1334.3 258.5L1334.8 257.9L1336.2 258.5L1336.8 258.4L1338 258L1338.6 257.8L1339.4 258.1L1340.6 257.8L1341.4 257.5L1342.4 256.6L1343.4 256.1L1344.1 255.9L1344.9 255.7L1345.3 256L1346.6 256.5L1347.5 256.8L1347.8 255.5L1348.7 256.2L1349.8 256.1L1350.8 256.6L1351.6 256.1L1352.4 254.2L1353.5 254L1353.9 255.2L1355 254.6L1355.7 253.5L1357.1 253L1357.9 254.6L1358.7 254L1359.9 253.7L1360.8 253.8L1361.1 252.6L1362.3 253.9L1363 252.9L1363.8 253.1L1364.9 252.2L1366 251.2L1366.9 252.2L1367.9 251.1L1368.5 250.7L1369.8 251.2L1370.5 251.3L1371.6 250.8L1372.3 251.6L1373.5 250.5L1374 251.6L1375.3 250.7L1376 251.3L1376.9 249.7L1377.6 249.8L1378.8 249.5L1379.8 249.8L1380.3 249.5L1381.2 249.1L1381.9 248.7L1382.6 249L1383.1 248.9L1384.3 249L1385.3 248.3L1386.5 248.8L1387.2 248L1388 248.8L1389.1 247.9L1389.6 248.7L1390.8 249.6L1391.3 249.6L1392.1 251L1392.8 249.8L1393.5 251L1394.1 251.9L1395.1 251.1L1396.3 252L1397 252.7L1397.8 251.8L1398.3 252.2L1399.4 252L1400.2 250.9L1400.8 251.1L1401.7 252.4L1402.9 251.1L1403.9 252L1404.4 252.4L1405.4 253L1406.2 251.8L1407.2 253.1L1408.5 252.7L1409.1 252.5L1410.3 252L1411.5 253.7L1412.5 253.6L1413.3 254.4L1413.9 253.2L1414.6 253L1415.9 252.9L1416.7 253.6L1417.7 254.4L1418.5 254.7L1419 253.6L1420.2 254.2L1421.3 255.2L1422.3 255.5L1423.2 254.6L1424 255.6L1425.1 255L1425.8 255.7L1426.7 256.4L1427.4 256.1L1428.7 255.4L1429.6 256.1L1430.7 257.1L1431.4 257.3L1432.4 256.1L1433.2 257.6L1434.1 257.7L1434.5 256.8L1435.7 257.1L1436.7 258.1L1437.7 257.9L1438.2 259.3L1439.3 258.6L1440 259L1440.9 259.5L1441.4 260.5L1442.6 260.3L1443 259.3L1444.1 260.7L1444.8 259.7L1445.7 260.4L1446.3 260.8L1447.2 261.2L1448.2 262.1L1448.8 261.6L1450.3 262L1450.8 262.6L1451.3 262.8L1452.5 262.7L1453.1 263L1453.8 263.2L1454.7 264.3L1455.9 263.7L1456.7 263.5L1457.4 263L1458.5 264.3L1459.3 262.9L1460.2 262.8L1461 263.7L1461.6 263.9L1463 264.6L1463.6 265.4L1464.6 265.9L1465.5 264.5L1466.8 264.8L1467.4 266.4L1468.3 266.2L1469.7 266.5L1470.4 267L1471.5 266.8L1472.2 266.4L1472.9 267.7L1474.1 265.7L1474.4 266.1L1475.7 266L1476.1 267.1L1477 267.5L1478.1 267.4L1479.2 266L1480 266.5L1480.6 265.8L1481.8 266.8L1482.5 267.4L1483.3 266.8L1484.2 266.8L1485.5 267.3L1486 267L1487.2 267.3L1488.3 267.1L1489.2 268.1L1490.1 267.5L1490.5 267.1L1491.8 266.7L1492.4 268.2L1493.7 268.3L1494.6 267.7L1495.5 268.1L1496.2 267.7L1496.8 267.1L1497.8 268L1498.6 269.2L1499.8 268.9L1500.8 268.1L1501.7 269.8L1502.2 268.4L1503.4 270.2L1504.3 269.5L1505 269.2L1505.7 270L1506.8 269.7L1507.8 269.8L1508.7 270.5L1509.5 271.9L1510.5 271.3L1511.2 271L1512.1 270.7L1513 271.7L1513.4 272.4L1514.5 270.7L1515.3 270.9L1516.2 272.5L1517.6 272.6L1518.4 273.2L1519.2 272.5L1519.8 272.3L1520.9 272.6L1521.9 273L1522.7 273.6L1523.6 272.9L1524.3 274.1L1525.1 274.2L1526.5 273.9L1527.4 274.6L1528.2 274.6L1529 275.2L1529.6 275.1L1530.7 275.2L1531.7 276.1L1532.7 275.9L1533.2 275.7L1534.4 276.1L1534.9 274.6L1536.4 275L1537.2 275.6L1537.9 275.5L1538.9 276.8L1539.8 276.6L1540.6 276.6L1541.7 276.9L1542.8 275.5L1543.7 276.5L1544.2 276.1L1545 275.5L1546.3 276.4L1547.2 275.3L1547.6 275.8L1548.7 276.7L1549.5 276.9L1550.6 276.2L1551.6 275.9L1552.4 276.3L1553 277.1L1554.1 277.6L1554.9 278.4L1556.1 277.1L1556.5 279L1557.6 277.5L1558.3 278.9L1559.2 278.4L1560.3 278.6L1561.2 280L1562.1 279.5L1562.9 279.1L1563.8 279.8L1564.6 279.6L1565.6 279L1566.4 280.6L1566.9 279.2L1568.3 278.9L1569.1 280L1569.5 280.2L1570.4 280.7L1571.5 281L1572.7 279.5L1573.3 279.6L1574.4 279.7L1574.9 279.8L1576.3 280.2L1576.8 280.8L1577.9 280.8L1579 280.8L1579.6 282.1L1580.4 281L1581.7 281.6L1582.6 282.9L1583.2 282.2L1584 283.6L1585.1 282.6L1585.9 282.4L1587.3 282.3L1588 283.4L1588.9 283.2L1589.8 282.7L1590.9 284.5L1591.7 283.5L1592.9 283.8L1593.3 285L1594.6 285.2L1595.1 286.4L1596 285.3L1597.4 286.4L1598.1 285.1L1599.1 285.9L1599.4 286.9L1600.8 285.6L1601.4 287.3L1602.1 286.1L1603.2 286.4L1604.3 287.3L1605.2 287L1605.8 287L1607 286.8L1608 286.7L1608.7 288.2L1609.8 286.8L1611.1 287.8L1611.8 287.7L1612.4 288.1L1613.7 288.3L1614.6 288.7L1615.5 288.8L1616.1 289L1616.8 290.2L1617.7 290.4L1618.5 290.1L1619.4 291.5L1620.1 290.7L1621.4 291.2L1621.8 292.3L1622.6 290.8L1623.3 291.7L1624.6 291.7L1625.2 293.1L1626 291.9L1627.2 292.4L1628 292.7L1628.9 294.3L1629.7 293.4L1630.7 294.5L1631.2 293.8L1632.2 294.5L1632.9 295.1L1633.7 295.9L1634.6 294.8L1635.2 295L1636.1 296.8L1637 296.2L1638.1 297.7L1638.7 296.7L1639.2 297.6L1639.9 297.8L1640.6 298L1641.6 299.2L1642.3 299.5L1643.2 300.6L1643.7 301.5L1644.7 301.2L1645.8 302.7L1646.2 301.9L1647 303.1L1647.8 302.9L1648.6 303.6L1649.4 304.6L1649.9 305.6L1650.6 304.5L1651.2 305L1651.9 307.3L1652.9 307.3L1653 307.1L1653.6 307.9L1654.4 307.7L1655 309.3L1655.8 310.9L1656.2 311.3L1656.7 311.8L1657.4 311.8L1657.8 313.5L1658 313.7L1658.8 314.6L1658.9 315.2L1659.6 316L1660 316.4L1660.5 317.3L1661.5 317L1662.3 317.8L1663.4 319.5L1663.8 319.3L1664.8 318.4L1666 320.2L1666.8 320L1667.8 320.1L1668.5 320.5L1669.4 321.1L1670 320L1671.1 320.8L1671.9 321.1L1673.1 320.4L1673.8 320L1674.5 319.8L1675.3 319.5L1676.4 317.8L1676.8 318.1L1678 317.8L1678.7 317.4L1679.7 315.8L1680.6 315.4L1681 314.2L1681.5 315"/>
<path class="cv" stroke="#ff0080" d="M246.8 1308L247.9 1306.4L249.3 1304.3L250.9 1302.1L252.4 1299.9L254 1297.5L255.8 1295L257.5 1292.4L259.4 1289.7L261.2 1287L263.1 1284.2L264.9 1281.4L266.8 1278.7L268.5 1275.9L270.3 1273.2L271.9 1270.5L273.6 1267.9L275.2 1265.2L276.7 1262.6L278.3 1260L279.8 1257.4L281.3 1254.7L282.8 1252.1L284.4 1249.4L285.9 1246.8L287.4 1244.1L288.8 1241.4L290.3 1238.7L291.8 1236L293.3 1233.3L294.7 1230.7L296.2 1228L297.7 1225.3L299.1 1222.6L300.5 1220L302 1217.3L303.4 1214.5L304.8 1211.8L306.2 1209.1L307.6 1206.3L309 1203.6L310.4 1200.9L311.7 1198.2L313.1 1195.5L314.4 1192.8L315.6 1190.1L316.9 1187.4L318.1 1184.7L319.4 1182.1L320.6 1179.4L321.8 1176.7L323 1174.1L324.1 1171.4L325.3 1168.7L326.4 1166L327.6 1163.3L328.7 1160.6L329.8 1157.9L330.9 1155.1L332 1152.4L333.1 1149.6L334.1 1146.8L335.2 1143.9L336.2 1141L337.2 1138.2L338.2 1135.3L339.2 1132.4L340.2 1129.5L341.2 1126.7L342.1 1123.8L343.1 1121L344 1118.1L345 1115.3L345.9 1112.5L346.9 1109.6L347.9 1106.7L348.8 1103.8L349.8 1101L350.8 1098.1L351.8 1095.2L352.7 1092.3L353.7 1089.5L354.6 1086.7L355.6 1084L356.5 1081.3L357.3 1078.7L358.2 1076.2L359 1073.7L359.8 1071.3L360.6 1068.9L361.4 1066.5L362.3 1064.1L363.1 1061.7L363.9 1059.2L364.7 1056.7L365.6 1054.1L366.5 1051.4L367.4 1048.8L368.3 1046.2L369.2 1043.6L370.1 1040.9L371 1038.3L371.9 1035.6L372.9 1032.9L373.8 1030.1L374.8 1027.2L375.8 1024.3L376.9 1021.3L377.9 1018.2L378.9 1015.2L380 1012.1L381 1009L382.1 1005.9L383.1 1002.8L384.1 999.8L385.1 996.7L386.1 993.7L387 990.8L388 987.8L388.9 984.9L389.8 981.9L390.7 979L391.6 976L392.5 973.1L393.4 970.1L394.2 967.2L395.1 964.3L395.9 961.3L396.7 958.4L397.6 955.5L398.4 952.6L399.2 949.8L400 946.9L400.8 944.1L401.5 941.3L402.3 938.6L403.1 935.8L403.8 933L404.6 930.2L405.4 927.4L406.2 924.5L407 921.6L407.9 918.6L408.7 915.6L409.6 912.6L410.4 909.6L411.2 906.6L412.1 903.7L412.9 900.8L413.7 897.9L414.4 895L415.2 892.2L415.9 889.4L416.7 886.5L417.4 883.7L418.1 880.8L418.8 878L419.5 875.1L420.1 872.1L420.8 869.2L421.4 866.3L422 863.3L422.6 860.4L423.2 857.5L423.8 854.6L424.3 851.8L424.9 849L425.4 846.2L425.9 843.3L426.4 840.5L427 837.7L427.5 834.8L428 831.9L428.5 828.9L429 826L429.4 823L429.9 820.1L430.4 817.2L430.9 814.3L431.3 811.5L431.8 808.6L432.3 805.8L432.9 802.9L433.5 800L434.1 797.2L434.7 794.3L435.4 791.4L436.1 788.6L436.9 785.8L437.8 783L438.8 780.3L439.9 777.6L441.1 775L442.4 772.5L443.8 770L445.3 767.7L446.8 765.3L448.2 763L449.7 760.7L451 758.4L452.3 756.1L453.4 753.7L454.4 751.1L455.4 748.5L456.2 745.9L456.9 743.2L457.6 740.4L458.2 737.5L458.8 734.6L459.4 731.6L460 728.5L460.7 725.3L461.3 722L461.9 718.7L462.6 715.4L463.2 712L463.9 708.7L464.6 705.5L465.2 702.2L465.9 699L466.5 695.9L467.2 692.8L467.8 689.7L468.5 686.6L469.1 683.5L469.8 680.5L470.5 677.4L471.1 674.4L471.8 671.4L472.5 668.3L473.2 665.3L473.8 662.4L474.5 659.4L475.1 656.5L475.8 653.6L476.4 650.7L477 647.8L477.6 644.9L478.2 642L478.9 639.1L479.5 636.2L480.1 633.3L480.7 630.5L481.2 627.6L481.8 624.8L482.4 622L483 619.2L483.5 616.5L484.1 613.7L484.6 610.9L485.1 608.1L485.7 605.3L486.2 602.4L486.8 599.6L487.3 596.7L487.9 593.8L488.4 590.8L488.9 587.9L489.5 584.9L490 581.9L490.5 578.9L491.1 575.9L491.6 572.9L492.1 569.9L492.6 566.9L493.2 564L493.7 561L494.3 558.1L494.9 555.1L495.4 552.2L496 549.1L496.7 546.1L497.3 543.1L497.9 540.1L498.6 537.1L499.2 534.1L499.9 531.1L500.5 528.2L501.2 525.3L501.9 522.4L502.5 519.5L503.2 516.6L504 513.6L504.7 510.6L505.4 507.6L506.2 504.6L507 501.6L507.8 498.6L508.6 495.6L509.4 492.7L510.2 489.8L511.1 487L512 484.2L512.9 481.4L514 478.6L515 475.8L516.2 473L517.3 470.3L518.6 467.5L519.8 464.8L521.1 462L522.5 459.3L523.8 456.5L525.2 453.8L526.6 451.1L528.1 448.5L529.5 445.9L531 443.4L532.5 440.9L534.1 438.5L535.7 436.1L537.4 433.7L539.1 431.4L540.9 429.1L542.7 426.8L544.5 424.6L546.4 422.4L548.3 420.2L550.3 418L552.3 415.9L554.3 413.7L556.3 411.5L558.3 409.4L560.3 407.2L562.4 405.1L564.4 403L566.4 400.9L568.4 398.8L570.4 396.7L572.5 394.6L574.5 392.5L576.5 390.3L578.5 388.2L580.4 386L582.4 383.7L584.3 381.4L586.1 379.1L588 376.8L589.8 374.4L591.6 371.9L593.3 369.5L595.1 367L596.8 364.4L598.6 361.9L600.3 359.4L602 356.8L603.7 354.3L605.4 351.8L607 349.2L608.7 346.7L610.3 344.2L611.9 341.7L613.5 339.2L615.1 336.7L616.7 334.3L618.3 331.8L619.9 329.3L621.4 326.8L623 324.3L624.6 321.7L626.3 319.2L627.9 316.6L629.6 314L631.2 311.4L632.9 308.8L634.6 306.2L636.2 303.6L637.9 301L639.6 298.5L641.3 296L643 293.6L644.7 291.2L646.6 288.7L648.5 286.3L650.5 284L652.6 281.8L654.7 279.6L657 277.6L659.4 275.6L661.8 273.8L664.4 272.2L667 270.8L669.6 269.6L672.3 268.6L675.1 267.9L677.8 267.4L678.3 267.5L679 267.4L679.9 267.4L680.3 267.4L681.2 267.3L682.3 267.4L682.8 267.6L683.8 267.6L685 267.6L686.4 267.9L687.1 268L688.3 267.6L689 268L690.2 268.5L691.4 268.3L691.9 268.9L692.6 268.1L693.8 269.1L694.3 269.5L695.6 269.4L696.2 269.5L697 271.2L697.8 271.6L699 271.3L699.4 272.6L700.4 271.9L701.2 273.5L702.1 272.4L703 272.4L703.9 273.3L704.6 273.9L705.8 272.2L706.5 272.5L707.6 273.2L708 271.9L708.9 273L709.8 272.2L710.8 272.1L711.8 272.2L712.4 272.1L713.4 271.5L714.4 270.8L715.4 271L716.1 271.4L717.2 269.7L717.8 270.4L719.1 271L719.7 269.1L720.7 269.5L721.4 269.6L722.3 268.7L723.3 268L723.8 268.5L724.5 266.8L725.6 266L726.4 266.9L727 265.7L728 266.5L728.4 265.3L729.4 264.9L730 263.5L731 264.2L731.5 262.3L732.7 262.8L733.4 260.6L734.2 261.9L735.2 261L735.5 261L736.4 260.3L737.7 260.1L738 258.9L739.3 258.3L740 258.4L740.5 258.3L741.3 256.8L742.3 256.3L742.9 256.8L744.1 257L744.5 255.8L745.3 255.8L746.2 256.2L747 254L748.1 253.8L748.9 254.1L749.9 253.6L750.5 252.5L751.3 252L752.2 252L752.6 251L753.5 251.6L754.2 251.1L755.3 249.4L756.1 249L756.6 249.8L757.5 250.2L758.4 249.1L759.4 248.7L760.2 249L760.7 251.2L761.8 250.1L762.3 252.1L763.5 252.3L764 252.3L764.9 252L765.8 253.3L766.6 253.3L767.3 254.7L768.3 255L768.9 255.7L769.7 255.7L770.5 256.6L771.1 255.9L771.7 256.7L772.4 258.6L773.4 258.8L773.9 258.7L775.1 259.4L775.5 259.6L776 259.6L776.7 260.6L777.5 262.2L778 261.5L778.5 261.8L778.9 262.4L779.5 262.5L780.1 263.7L780.5 265.3L780.7 265.8L781.2 266.1L781.4 267.4L781.8 269.3L781.8 269.2L782 270L782.4 271L783.3 271.6L783.2 272.5L783.5 273.8L784.1 273.3L784.2 275.3L785 276.3L785.1 277.9L785.2 277.1L786 278.7L786 279.9L786.9 280.5L786.9 280.3L787.1 282.6L787.8 283.4L787.9 282.7L788.3 283.7L788.7 284.2L789.3 285L789.5 285.3L790.4 286.4L790.6 287.6L791 287.7L791.3 288.8L791.8 291.5L792.3 292.4L792.5 291.8L793.1 293.8L793.6 294.6L794.1 295.9L794.7 295.6L794.9 297.3L795.2 296.5L795.8 297L796.6 299.1L796.8 298.5L797.2 299.6L797.7 300.7L798.5 301.1L798.7 302.8L799.2 302.6L799.9 303.9L800.3 305L800.9 306.6L801.6 307.9L802.2 308.5L802.7 308.8L803.3 310L803.9 310.8L804.3 310.5L804.9 311.4L805.1 311.5L805.7 312.7L806.6 313.3L806.8 314.8L807.7 313.9L808 314.7L808.8 316.7L809.7 316.7L809.9 317.2L810.6 317.8L810.9 319.2L812 320.3L812.2 320.7L812.8 321.9L813.6 323L814.4 321.9L814.7 324L815.4 323.7L816 324.9L816.9 325.1L817.5 326L817.6 327.2L818.3 326.5L819.3 327.3L819.6 329L820.4 329.6L820.6 330.1L821.2 331.3L821.9 332.2L822.4 332L823 333.8L824 334.1L824.4 334L824.7 335.6L825.5 334.7L825.9 335.5L827.1 338L827.7 338.5L828.7 338.7L829.8 339L830.6 338.7L831 339.2L832.2 338.7L833 339L833.7 339.1L834.9 339.5L836.1 339.3L837 340.1L837.8 339.7L838.4 339.2L839.3 338.5L840.1 338.8L840.9 337.6L841.5 336.7L842.5 337.2L843.7 337L844.3 336.9L845.1 335.8L845.9 335.3L847.1 335.2L848.2 334.2L849 333.9L849.7 332.6L850.6 333.8L851.4 333.9L852.5 332.6L853.1 332.5L854.2 333L855.6 333.5L856.4 332.4L857 332.9L858.2 333L859 333.3L859.8 332.2L860.7 332.9L861.9 332.2L862.5 333.5L863.2 332.3L864.3 334.1L865.3 334.2L865.7 333.9L866.5 335.2L867.1 334.4L868.1 336.2L868.7 334.8L869.6 336.3L871 336.2L871.4 337.4L872.3 338.1L873.1 337.2L873.7 339.2L874.8 338.7L875.5 339.9L876.4 339.5L877.1 341.3L877.8 340.4L878.5 341L879.3 341.5L880.5 341.7L881.4 343.3L882.3 343.7L883 344.3L884 343.9L884.7 343.1L885 343.6L885.7 344.8L886.8 346.1L887.8 345.6L888.4 347.2L889.1 347L890 347.9L890.8 348.5L891.7 349.7L891.8 349.7L892.9 349.1L893.3 349.8L894.2 350.7L895.2 350.3L895.7 350.9L896.7 351.8L897.5 351.1L898.2 352.6L899.2 351.5L900 352.4L901.1 352.7L901.8 353.2L902.9 355.5L903.9 354.8L905.1 354.4L905.6 355.9L906.2 355.9L907.3 354.3L908 355L908.7 354.9L909.1 353.9L910.1 353.8L910.2 352.5L910.5 353.6L911 351.9L910.9 350.7L911.6 349.9L911.8 349.9L912 348.4L911.8 346.2L912.4 345.9L912.7 345.7L912.8 343.8L913 343.6L913.1 341.5L913.3 341.1L913.6 341.5L913.3 339.6L913.6 338.9L914 338L914.2 335.9L914.8 334.8L915 335.6L915.7 333.4L915.6 334.4L916.7 333.6L916.8 332.6L918.2 333.5L918.2 331.9L919.1 331.9L919.9 331.5L920.7 330.4L921.3 331.4L922.2 329L922.7 329.5L923.7 328.3L924.7 328.5L925.9 327.7L926.5 327.5L927.4 328.2L928 327.5L929.3 326.3L930.1 326.7L930.8 326.7L931.7 325.1L932.3 324.7L933.1 324.9L933.6 324.3L934.7 324.3L935.8 323.1L936.3 323L937.3 322.8L938.2 320.8L938.4 321.3L939.2 320L940.3 319.8L940.8 320.3L941.5 319.2L942.5 318L942.9 318.4L943.6 317.2L944.3 316.1L944.7 315.9L945.3 316.4L945.9 314.2L946.8 314.3L947 313.8L947.7 312.3L948.2 311.3L948.4 311.9L949.1 311.3L949.4 309.1L949.9 309.4L950.8 307.1L951.1 307.8L952.1 307.1L952.4 305.8L953.1 305.3L954 304.5L954.4 304.6L955 302.3L956 301.8L956.4 302L957.4 302.3L958.2 300.1L958.9 301.1L959.3 300.4L960.1 298.9L960.6 299.3L961.7 299.1L962.3 297.2L962.9 297.1L964 296.7L964.1 296.6L964.7 296.5L965.8 296.5L966.3 294.7L967.3 294.9L968 293.9L968.9 292.3L969.3 292.2L970.1 292.3L970.8 291.4L971.4 291.2L972.3 289.8L972.6 289.4L973.4 290.2L974.1 289.3L975 289.4L975.4 288.5L976.2 286.7L977.2 287.6L977.9 285.4L978.9 285.5L979.5 285.5L980 284.2L980.9 282.9L981.5 283.5L982.4 283.2L982.9 281.5L983.7 282.1L984.7 281.3L985.2 279.1L985.7 278.8L986 279L987.4 277.3L988.5 278.5L989.5 277.5L989.6 278.5L990.4 278.8L990.7 280.2L991.2 279.8L991.3 280.9L991.9 281.5L991.7 282.7L992.3 283.5L992.4 285.6L992.5 286.5L993 286.2L993.1 288.7L993.7 288.6L994.5 289.6L994.9 289.6L995.7 290L996.3 291.2L997.1 290L997.8 291.1L999 289.8L1000.1 289.8L1000.6 289.6L1001.7 290.8L1003 290L1003.9 290L1004.9 290.4L1005.7 290.1L1006.9 290.4L1007.9 290.8L1008.7 291.3L1009.5 291.7L1010.7 290.3L1011.3 291.3L1012.1 290.1L1013.1 291L1013.9 290.1L1015.2 290L1015.6 290.2L1016.7 289.9L1017.9 288.9L1018.9 289.1L1019.5 289.1L1020.5 288.9L1021.4 289.1L1021.9 288.6L1022.7 289.4L1024 290.1L1024.4 290.3L1025.5 290.2L1026.1 292.8L1027.4 292.1L1028.2 293.8L1028.7 294.2L1029.4 293.8L1030.1 294.8L1031.2 295.3L1031.9 294.9L1032.5 295.6L1033.2 295.7L1034.5 295.8L1035.4 295.3L1036.1 297L1036.9 295.6L1037.6 297L1038.5 296.4L1039.5 297.1L1040.3 296.6L1040.8 297.1L1042.1 296.9L1042.9 296.9L1043.6 297.5L1044.2 296L1045 298.1L1045.3 296.3L1046.2 296.5L1047.2 296.5L1048.4 296.1L1050 296.5L1050.8 296.4L1051.1 297.3L1052.3 296.6L1052.6 295.8L1053.6 295.9L1054.1 296L1055.4 296.6L1056.4 296.6L1057.2 297.1L1058.2 297L1058.9 296.5L1060 296.7L1061 295.6L1061.6 295.2L1062.6 295.7L1063.9 294.5L1064.8 295.6L1065.7 293.9L1066.8 294.2L1067.5 293.9L1068.3 293.4L1069.5 293.2L1070.2 293.9L1071.7 294.4L1072.2 294.4L1072.9 292.7L1073.8 292.4L1075 293.7L1075.8 293.6L1076.7 293.6L1077.7 292.6L1078.3 292.2L1079.4 292.8L1080.1 291.5L1081.4 290.9L1082.1 291L1083 291.5L1083.6 291.6L1084.7 290.6L1085.8 291.3L1086.4 291L1087.1 290.6L1088 290.7L1089.4 290.6L1089.8 290.2L1090.9 290L1091.6 289.7L1092.7 289.4L1093.7 289.8L1094.4 289.6L1095.3 291.4L1096.2 289.9L1097.1 291.6L1097.9 290.5L1098.9 291.3L1100 290.3L1101.1 290.9L1101.9 291.2L1103 290.3L1103.5 290.5L1104.4 291.4L1105.5 290.3L1106.4 291.1L1107.3 290.1L1108.3 290.5L1109 290.1L1109.7 290L1111 289.7L1111.5 290.3L1112.5 289.3L1113.3 290.6L1113.8 289.5L1115.2 291.2L1115.7 289.6L1117 290.1L1117.9 289.6L1118.7 289.4L1119.5 290.1L1120.5 290L1121.6 289.1L1122.4 287.8L1123 287.7L1124 286.9L1124.9 287L1125.7 287.8L1126.6 286.4L1127.4 287.2L1127.8 286.4L1128.9 285.5L1129.5 284.6L1130.3 285.8L1131.1 284.2L1132.2 284.2L1133.1 284L1133.8 283L1135 284.1L1135.5 283.6L1136.5 283.5L1137.6 283.9L1138 282.9L1139.1 282.4L1140.1 282L1140.7 282.3L1141.6 281.7L1142.3 283.5L1143.5 281.9L1144.2 281.3L1145 281.3L1146.5 281.3L1146.9 280.7L1147.6 282.3L1148.9 282L1149.8 281.7L1150.4 280.4L1151.3 280.1L1152.2 281.3L1153.3 279.9L1154.1 281.5L1155.4 281.1L1156.3 281.4L1157.1 280.2L1158.1 279.9L1158.7 279.8L1159.9 279.4L1160.6 279.9L1161.7 281.5L1162.7 281.6L1163.8 281.3L1164.4 281.2L1165.3 281.9L1166.6 282.1L1167.2 280.6L1167.9 281.4L1169 280.1L1169.9 280.5L1170.8 281.3L1171.9 280.8L1172.9 280.9L1173.9 281.1L1174.6 282.5L1175.5 282.4L1176.5 283L1177.3 282.1L1177.9 283.1L1179 282.5L1180 283.2L1180.7 283.7L1181.8 283.4L1182.5 283.8L1183.5 282.9L1184.1 283L1185.2 283.1L1185.8 282.3L1186.9 281.5L1187.5 283L1188.3 282.1L1189.4 281.2L1190.2 281.4L1191.2 282.8L1191.9 281.6L1193.1 282L1193.6 281L1194.7 282.2L1195.7 280.7L1196.7 280.9L1197.4 281.1L1198.7 280.4L1199.6 280.6L1200.7 280L1200.9 279.5L1202.1 278.8L1203 278.6L1203.8 278.9L1204.7 279.3L1205.6 278.6L1206.5 277.4L1207.4 278L1208 278L1209 277.1L1210.1 277.1L1211.1 276.1L1212.1 275.6L1212.8 276.2L1213.6 275.2L1214.8 273.8L1215.6 274.7L1216.3 274.8L1217.3 273.3L1217.9 274.1L1218.8 274.6L1219.6 274L1219.9 272.8L1221.1 273.6L1222.1 271.9L1223.1 271.8L1223.9 271.6L1224.9 271.6L1225.8 270.9L1226.4 271.1L1227.2 269.7L1228.2 270.1L1228.6 269.3L1229.2 270.6L1229.9 268.8L1231 268.2L1231.6 268.3L1232.5 267.6L1232.9 266.6L1233.7 265.7L1234.4 265.6L1235.3 266.4L1236.5 265.1L1236.9 264.5L1237.9 264.3L1238.4 264L1239.3 262.8L1240.4 262.4L1241 263.3L1241.8 263.1L1242.5 262.9L1243.1 262.3L1244.2 260.1L1244.9 261.7L1245.9 260.8L1246.8 259.1L1247.4 259.8L1248.6 260.7L1249.1 260.9L1250.2 259.6L1250.7 260.1L1251.9 260.3L1252.6 261.6L1253.6 260.4L1254.7 260.3L1255.4 260.1L1256.2 261.9L1257.4 261L1258.5 261.2L1259.4 260.7L1260 260L1260.8 260.7L1261.6 261.2L1262.6 260.3L1263.5 260.7L1264.3 261.4L1265.4 259.8L1266 261.4L1267.3 260.2L1268.3 259.6L1269.3 261.3L1270.1 259.4L1270.9 260.7L1271.9 259.3L1272.7 258.8L1273.8 258.8L1274.6 260L1275.8 259L1276.7 258.1L1277.7 259.4L1278.3 259.3L1279.1 259.3L1280.1 259L1281.3 258.9L1282.2 257.1L1282.9 258.1L1284.2 258L1284.6 257.2L1285.7 256.8L1286.5 257.2L1287.5 256.5L1288.5 257.6L1289.5 257L1290.5 255.3L1291.4 255.2L1291.8 256.4L1293 256L1293.6 256.1L1294.5 254.8L1295.3 254.4L1296 255.8L1297.4 254.4L1297.8 254.1L1298.8 254.3L1299.2 254.9L1300.4 253.1L1300.8 253.2L1301.7 253.2L1302.4 252.8L1303.4 252.9L1304.3 253L1305.3 253.3L1306.4 252.8L1307.4 252.3L1307.9 252.5L1308.8 251.2L1309.5 251L1310.1 252L1311.1 251.1L1311.9 250.6L1313.2 251.3L1313.9 252L1315.2 252.1L1315.7 252.7L1316.6 251.9L1317.9 251.3L1319 252L1319.8 251.1L1320.9 251.4L1321.7 252.3L1322.4 251.3L1323.4 252.7L1324.5 251.7L1325.3 252L1326 250.7L1326.7 251.6L1327.9 252.3L1328.8 252L1330 251.2L1330.5 251L1331.4 251.5L1332.3 250L1333.4 250.7L1334.1 250.6L1334.8 250.5L1335.3 249.5L1336.5 249.8L1336.9 250.7L1338.1 250.4L1338.7 248.9L1339.8 248.9L1340.5 249.7L1341.1 248.1L1342.2 249.5L1343.1 249.8L1343.8 249L1344.9 248.5L1345.6 247.6L1346.6 248.2L1347.7 248L1348.3 247.9L1349.3 247.6L1350 248.2L1351.1 247.1L1351.9 247.8L1353.2 248.6L1354 249.1L1354.9 248.2L1356.1 248.9L1356.9 249.4L1357.6 248.7L1359 249.5L1359.5 249.4L1360.7 249.7L1361.4 249.2L1362.5 249.9L1363.1 248.8L1363.8 249.4L1364.5 249.8L1365.3 248.6L1366.5 249.3L1367.6 249.2L1368.4 249.4L1369.9 249.3L1370.8 250.9L1371.5 249.9L1372.4 251.5L1373 250.4L1373.8 252.2L1374.5 250.9L1375.1 252.1L1375.8 251L1376.8 251.7L1377.7 251.5L1378.6 252.9L1379.2 252.9L1380.1 253.6L1381 253.7L1381.8 254.5L1382.3 253.4L1383.6 255.3L1383.9 255.8L1385.1 256L1386 255.2L1386.5 256L1387.7 255.4L1388.3 255.2L1389.5 255.3L1390 256.2L1391.3 254.6L1391.7 255.7L1392.6 255.1L1393.7 254.7L1394.6 254.4L1395.3 255L1396.3 255.7L1397.1 255.7L1398.2 254.5L1399.1 254.4L1400.7 254.5L1401.4 255.7L1402.1 254L1402.8 253.9L1403.6 254.1L1404.4 254.7L1405.5 253.8L1406.2 253.4L1407 253.8L1407.9 253.8L1409 254.1L1409.9 254.1L1411.3 254.1L1411.8 253.9L1412.8 253.9L1413.8 253.4L1414.6 254L1415.6 254.4L1416.7 253.7L1417.2 253.6L1418.3 253.7L1419.3 253L1420.1 254.7L1421.2 254.3L1421.9 254.1L1423 254.5L1423.5 254L1424.7 254.2L1425.4 253.8L1426.3 254.3L1427.3 255.4L1428.2 255.5L1428.5 253.7L1429.6 255.2L1430.6 254.1L1431.2 254.1L1432.1 254L1433.4 254.1L1433.9 255.4L1434.8 256.2L1435.9 256.6L1436.7 256.8L1437.2 256.6L1438 257L1439.1 257.3L1439.8 258L1440.1 257.5L1441.1 258.9L1441.6 258.2L1442.5 258.9L1443.2 260.3L1444.1 259.5L1444.8 260.5L1445.5 260.7L1446.2 261.7L1447.6 262.7L1448.3 261.9L1449.2 262.5L1450 262.6L1451.2 262.1L1452.2 263.5L1453.5 262.6L1454 263.4L1454.9 262.8L1455.6 263.2L1456.5 264.3L1457.2 263.7L1458.1 264L1458.8 263.2L1460.1 262.9L1460.8 263L1461.6 263.3L1462.4 262.7L1463.8 262.3L1464.2 263.7L1465.3 262.6L1466.5 264.1L1467.1 263.6L1468.2 264.1L1469.3 263.9L1470.3 262.1L1471.2 263.1L1472 261.6L1473.5 263.1L1474.2 261.2L1475.2 262.8L1476.2 262.3L1476.9 262.1L1478.2 261.9L1478.6 261.2L1480 262.3L1480.9 261.2L1481.2 262.2L1482.3 261.8L1483 262.4L1484.1 262.3L1484.7 261.8L1485.4 261.8L1486.5 261.8L1487.9 262.6L1488.5 262.4L1489.9 261.8L1490.9 263L1491.3 262.5L1492.4 262.1L1493.4 262.8L1494.4 262.8L1495 262.6L1495.9 261.4L1497 262.1L1497.5 263L1498.5 262.7L1499.6 262.3L1500.1 262.9L1500.8 263.1L1502 263.6L1502.4 263.7L1503.5 263.1L1504.3 263.2L1505.2 263.3L1506.1 263.2L1506.6 263.3L1507.5 264.3L1508.9 263.4L1509.3 264.3L1510.5 262.9L1511.1 263.4L1511.9 262.8L1512.9 262.7L1513.6 263.7L1514.6 264.4L1515.9 264L1516.4 264.2L1517.3 264.5L1518.2 264.1L1519.3 264.1L1520.2 263.4L1520.7 263.4L1522.1 262.7L1522.5 263.2L1523.5 264.1L1524.2 262.4L1525 262.7L1526.4 262.8L1527.2 262.7L1527.9 262.3L1528.6 263.4L1529.9 261.6L1530.5 262.8L1531.6 262.7L1532.6 261.4L1533.6 261.3L1534.1 262.2L1535.4 261.1L1536 261.7L1536.9 260.9L1538.2 260L1539.1 261.3L1540 260L1540.4 260.5L1541.3 261.5L1542.4 261.4L1543.3 260.7L1544.5 260.1L1544.9 261.5L1546.1 261.3L1547.2 261.2L1547.9 261.2L1548.7 260.1L1549.5 261.5L1550.5 259.7L1551.5 261.5L1552.4 260.4L1553.2 260.6L1554.2 260.2L1555.3 261L1556.1 260.8L1557 259.8L1557.8 260.1L1558.5 261.6L1559.5 261.5L1560.7 260.9L1561.2 260.6L1562.4 261.8L1563.1 261.7L1563.9 262L1565.2 262.4L1565.9 262.2L1566.4 261.8L1567.5 261.6L1568.2 263.6L1569.4 263L1570.2 263.9L1571 263.2L1571.7 264.5L1572.9 263L1573.7 264.2L1574.2 264.6L1574.9 264.9L1575.9 264.9L1576.3 266.2L1577.6 266.5L1577.9 267.1L1578.6 267.4L1579.5 267.9L1580.2 267.7L1581 268.5L1581.6 269.1L1582.4 268.9L1583.7 269.4L1584.5 270.5L1584.9 270.9L1586.1 270.6L1587 270.9L1587.9 272.6L1589 271.8L1589.5 273.6L1590.2 272.2L1591 273.8L1591.9 273.6L1593.1 273.6L1593.5 273.5L1594.5 273.6L1595.6 274.7L1596.5 274L1597.5 274.2L1598.1 274.8L1599 274.1L1600.1 274.8L1600.8 274.8L1602.3 275.3L1602.9 275.4L1604 275.6L1604.8 276L1605.6 276.3L1606.6 276.6L1607.5 276.5L1608.3 276.3L1609.4 275.4L1610.1 276.4L1611.3 277.1L1612.2 277.2L1613.2 276.1L1613.5 276L1614.9 276.2L1615.5 276.2L1616.8 276.4L1617.4 277.2L1618.6 275.9L1619.5 276.7L1620.4 276.5L1621.5 276.9L1622.4 275.6L1622.8 275.7L1623.7 276L1624.9 276.2L1626 276.1L1626.8 275.3L1627.6 275.9L1628.2 276.4L1629.2 275.8L1629.9 276.4L1630.9 276.3L1631.9 276L1632.6 276L1633.2 276.8L1634.4 275.4L1634.7 276.5L1635.7 276.6L1636.8 276.5L1638 277.4L1639 277L1639.6 278L1640.8 277.8L1641.4 277.9L1642.5 279.2L1643.4 279.2L1644.4 278.6L1645.1 279.9L1646.1 279.5L1646.6 280.7L1647.4 280.2L1648.2 281.6L1649.2 282.6L1650 282.1L1650.9 281.8L1651.4 283.8L1652 282.5L1652.7 282.8L1653.9 284L1654.8 285.2L1655.1 284.5L1655.9 284.8L1656.5 285.2L1657.4 285.9L1658.2 287.4L1658.6 286.4L1659.7 287.4L1660.1 288.1L1660.9 290.1L1661.2 289.1L1661.7 291.1L1662.3 290.8L1662.7 290.9L1663.3 293.1L1663.7 293.1L1664.1 294.3L1664.6 294.3L1665.2 294.9L1665.2 296.4L1665.9 296L1666 298.4L1666.4 298.3L1666.5 298.8L1667.1 300.9L1667.5 301.9L1667.7 300.9L1668 302.3L1668.2 302.6L1669.2 305L1669.1 304.3L1670.1 305.4L1670.1 306.4L1670.5 306.9L1671.1 309.3L1671.3 309.6L1671.7 311L1672.6 311.9L1672.8 311.2L1673.4 311.7L1673.8 312.9L1674.3 313.4L1674.6 314.5L1675 315.4L1675.8 315.5L1676.6 317L1677.4 317.3L1678 317.6L1678.6 318.2L1679.3 318.6L1679.5 318.7L1680 320.5"/>
<path class="cv" stroke="#000080" d="M247 1142.3L248.2 1140.6L249.8 1138.5L251.4 1136.2L253.1 1134L254.8 1131.6L256.6 1129.1L258.4 1126.5L260.2 1123.9L262 1121.3L263.8 1118.7L265.5 1116.1L267.2 1113.5L268.8 1111L270.5 1108.4L272.1 1105.9L273.6 1103.3L275.2 1100.8L276.7 1098.2L278.2 1095.6L279.7 1093L281.2 1090.4L282.6 1087.8L284 1085.1L285.3 1082.5L286.7 1079.9L288 1077.2L289.2 1074.6L290.5 1072L291.7 1069.5L292.8 1067L294 1064.5L295.1 1061.9L296.2 1059.3L297.3 1056.7L298.4 1054.1L299.6 1051.3L300.7 1048.5L301.8 1045.7L302.9 1043L304 1040.3L305 1037.6L306.1 1035L307.1 1032.4L308.1 1029.7L309.2 1027L310.3 1024.3L311.4 1021.4L312.5 1018.5L313.7 1015.5L314.8 1012.5L316 1009.5L317.2 1006.4L318.3 1003.3L319.5 1000.3L320.6 997.2L321.7 994.2L322.8 991.1L323.9 988.2L325 985.2L326 982.3L327 979.3L328 976.4L329 973.5L330 970.6L331 967.7L331.9 964.8L332.9 961.9L333.9 958.9L334.8 956L335.8 953L336.7 950L337.7 947.1L338.6 944.1L339.5 941.2L340.4 938.3L341.4 935.3L342.3 932.4L343.2 929.5L344.1 926.6L345 923.7L345.9 920.8L346.8 917.9L347.7 915L348.6 912.1L349.5 909.1L350.4 906.2L351.3 903.3L352.2 900.4L353 897.5L353.9 894.6L354.8 891.7L355.6 888.8L356.5 886L357.3 883.1L358.2 880.3L359 877.5L359.9 874.7L360.7 872L361.5 869.2L362.4 866.4L363.3 863.5L364.2 860.7L365.1 857.8L366 854.9L366.9 851.9L367.9 848.9L368.8 846L369.8 843L370.7 840.1L371.7 837.1L372.6 834.2L373.5 831.4L374.4 828.6L375.3 825.8L376.2 823L377.1 820.3L378 817.5L378.8 814.7L379.7 811.8L380.6 808.9L381.5 805.9L382.4 802.9L383.4 799.8L384.3 796.7L385.2 793.6L386 790.6L386.9 787.6L387.7 784.7L388.5 781.8L389.3 779.1L390.1 776.3L390.9 773.6L391.7 770.9L392.6 768.2L393.4 765.4L394.2 762.6L394.9 759.9L395.7 757L396.4 754.1L397.1 751.2L397.8 748.4L398.4 745.5L399 742.7L399.5 739.8L400.1 736.9L400.6 733.9L401.2 730.9L401.7 727.8L402.3 724.7L402.8 721.4L403.4 718.2L404 715L404.6 711.7L405.2 708.5L405.8 705.3L406.5 702.1L407.1 699L407.8 695.9L408.4 692.8L409.1 689.8L409.8 686.8L410.5 683.8L411.3 680.8L412 677.8L412.7 674.9L413.5 671.9L414.2 668.9L415 666L415.7 663L416.5 660.1L417.2 657.1L417.9 654.1L418.5 651.2L419.2 648.2L419.8 645.2L420.4 642.2L420.9 639.2L421.5 636.2L422 633.2L422.5 630.2L422.9 627.1L423.4 624.1L423.8 621.1L424.2 618L424.6 615L425 612L425.4 609L425.8 606L426.1 603.1L426.5 600.2L426.9 597.2L427.3 594.2L427.7 591.2L428.1 588.2L428.5 585.1L429 581.9L429.4 578.7L429.9 575.5L430.3 572.3L430.8 569.1L431.2 566L431.6 562.9L432.1 559.9L432.6 557L433.1 554L433.6 551.1L434.2 548.2L434.8 545.2L435.5 542.3L436.3 539.3L437.1 536.4L438 533.5L439 530.7L440.1 527.9L441.3 525.1L442.6 522.4L444 519.8L445.4 517.1L447 514.4L448.5 511.7L450 509L451.5 506.3L452.8 503.6L454 500.8L455.2 498L456.2 495.2L457.1 492.4L458 489.5L458.8 486.6L459.6 483.7L460.3 480.7L461 477.7L461.7 474.6L462.4 471.5L463 468.5L463.6 465.4L464.2 462.3L464.8 459.2L465.4 456.2L465.9 453.3L466.5 450.4L467 447.6L467.5 444.8L468.1 442L468.6 439.2L469.2 436.4L469.7 433.5L470.2 430.6L470.7 427.7L471.2 424.8L471.7 421.9L472.2 419.1L472.7 416.2L473.1 413.3L473.6 410.4L474.1 407.5L474.6 404.5L475.1 401.4L475.5 398.2L476 395.1L476.5 391.9L477 388.7L477.5 385.6L478 382.4L478.5 379.2L479 376.1L479.5 373L480 369.9L480.4 366.8L480.9 363.6L481.4 360.4L481.9 357.3L482.3 354.1L482.8 350.9L483.3 347.8L483.7 344.6L484.2 341.5L484.6 338.5L485.1 335.6L485.5 332.7L485.9 329.8L486.4 326.9L486.8 324L487.3 321.1L487.8 318.2L488.3 315.2L488.8 312.2L489.4 309.2L489.9 306.4L490.5 303.5L491.1 300.7L491.7 298L492.3 295.3L492.9 292.5L493.6 289.8L494.4 287L495.1 284.1L496 281.3L496.8 278.5L497.8 275.6L498.8 272.8L500 270.1L501.3 267.5L502.8 264.9L504.4 262.6L506.3 260.4L508.3 258.5L510.6 256.8L513 255.3L515.5 254.1L516.1 254L516.5 253.8L517.2 253.6L518 253.2L518.7 253L519.3 253.1L520.3 252.7L521.6 252.5L522.3 252.3L523.5 252.3L524.2 251.9L525.4 251.5L526.7 251.4L527.6 251.4L528.9 250.7L529.7 250.4L530.6 250.3L531.6 249.7L532.5 250.2L533.5 250.1L534.6 249L535.3 250.1L536.3 248.6L536.8 249.1L537.7 248.5L538.6 249.1L540 249.4L540.5 248.8L541.7 247.5L542.8 248.9L543.3 248.7L544.3 247.5L545.5 248L545.9 246.9L547 246.5L547.7 246.2L548.9 245.6L549.6 246.4L550.2 246.1L551.5 246.4L552.1 247.3L553.5 247.2L554 245.5L554.8 246.2L555.9 244.6L556.8 245.9L557.9 244.3L558.4 245.3L559.5 244.8L560.1 243.4L561.3 244.1L561.8 245.1L562.9 244.7L563.4 244.8L564.2 244.5L565.4 243.2L566.4 244.1L567.1 242.3L568.2 242.4L568.8 242L569.7 242L570.7 242.1L571.9 242L572.6 241.6L573.3 241.2L574.1 241L575.2 241.9L575.7 241.6L576.9 240.7L577.6 241.1L578.1 241.5L578.8 240.5L579.6 241L580.1 240.2L580.9 239.3L581.4 238.2L581.8 237.2L582.4 237.9L583.1 235.9L583.6 236.3L584.7 235.1L584.9 233.5L585.6 233.1L586.1 232.3L586.9 232.8L588.1 231.5L588.4 231.7L589.2 230L589.8 229.5L590.9 229.2L591.6 228.7L592.3 227.8L593.1 227.7L593.9 226.7L594.9 226.8L595.9 227.2L596.8 227.4L597.6 227.7L598.3 226.6L599.4 226.4L600.1 227.5L600.6 228.1L601.9 227.7L602.6 228.2L603.1 227.8L604.2 228.7L605.2 228.9L606 229.3L606.9 229.3L607.5 228.4L608.3 229.5L608.9 230.8L609.9 230.8L610.6 231.3L611.2 230.6L612 232.8L612.5 233L613.3 232.8L614 233.9L614.3 234.7L615.3 235L616 236.9L616.6 236.1L617.3 237.1L618.1 237.4L618.8 236.7L619.2 237.9L620.2 238.8L620.8 239L621.2 240.4L622.2 242L622.9 242.1L623.6 243L624.3 242.8L625.2 243.5L626 245.5L626.2 245L627.4 246.6L627.9 245.8L628.4 247.8L629.1 247.6L629.7 248.1L630.9 247.8L631.4 249.1L632 249.9L632.2 250.8L632.9 249.5L633.7 251.2L634.9 251.6L635.5 252.2L636.3 253.7L636.7 253.9L637.9 253L638.7 254.4L639.5 253.7L640 254L641.1 254.4L641.5 253.9L642.2 253L643 254.4L643.9 254.4L644.8 252.9L645.9 252.3L646.8 253.6L648.1 253.1L648.7 253.3L649.6 252.5L650.3 251.6L651.1 252.7L651.9 253.5L652.5 252.7L653.7 253.3L654.3 254.2L655.1 255.4L656.4 254.8L657.1 255.3L658 255.8L658.7 255.6L659.6 257.3L660.7 256.2L661.8 257.8L662.4 256.1L663.1 256L664.1 256L664.9 256.4L666 257.6L667 256.7L667.8 257L668.7 256.7L669.4 256.7L670.8 256.4L671.5 257.5L672.6 256.6L673.1 256.6L674 256.9L675.1 257.7L675.8 256L676.4 257.4L677.9 257L678.7 256.2L679.6 258.2L680.8 258.2L681.8 257.1L682.1 257.1L683.2 258.4L684.3 258.8L684.9 259.2L685.5 259.2L686 260.1L686.9 260.9L687.7 260.4L688 261.1L688.8 262.8L688.9 262.4L689.6 264.3L690 264.5L690.7 264.8L691.1 266.3L692.2 267.3L692.9 267.5L693.2 267.4L694.4 268.6L694.7 267.6L695.6 269.3L696.4 268.9L697.4 270.6L698 269.2L699 270.3L700.1 270.2L701.1 271.7L701.9 270.9L703.1 271.4L703.9 271.4L704.5 272.7L705.5 273L706.4 271.4L707 271.7L708.1 272.6L708.6 271.2L709.5 272.1L710.3 270L711.1 270.3L712.4 270.9L713.2 270.8L714.2 269L714.6 269.8L715.8 267.8L716.6 268.2L717.2 267.8L717.9 266.9L718.8 267.3L720 266.6L720.8 266.4L721.2 267.2L722.3 265.9L722.6 265.6L723.6 266L724.3 264.4L725.5 263.2L725.9 264.2L726.9 262L727.2 261.5L728.5 261.3L729.1 261.9L729.6 260.3L730.7 260.5L731 260.3L731.7 259L732.3 259.6L733.5 258.9L734.3 257.1L734.6 257.5L735.8 257.9L736.2 256L737 255.9L738 254.7L738.7 255.4L739.5 255L740.1 253.6L740.6 253.2L741.6 252.2L741.9 253L742.6 251L743.1 251.4L743.8 251.6L744.7 251L744.9 248.6L745.4 248.6L746.2 247.5L746.4 246.5L747 246L747.4 245.3L747.7 242.9L748 242.2L748.2 241.7L748.6 240.7L748.6 240.2L748.9 240.9L749.6 239.3L749.9 240.3L750.7 237.8L751.6 237.9L752.5 236.1L753 236.9L754 236.5L754.4 234.7L755.4 234.3L756.8 234.8L757.8 234.2L758.7 234.1L759.1 234.6L760.3 233.1L760.9 233.9L761.6 233.2L762.4 232.7L763.4 233.3L764.5 232.4L765 232.5L766.4 231.8L767 231.5L768.2 231.9L768.6 230.7L769.6 231.3L770.6 230.1L771.3 231.3L772.4 230.5L773.3 231.9L774.2 231.1L775.2 230.9L776.4 232.2L776.9 230.6L778 230.7L778.3 232.3L779.3 232.5L780 233.1L780.5 232.1L780.6 233.6L781.3 235.1L781.3 235.3L781.8 236L782 236.4L782.5 238.7L782.5 238.7L783.2 240.5L783.1 239.8L783.8 242.4L783.8 241.5L784.4 243.2L784.7 244.6L784.9 244.6L785.3 245.6L785.4 247.8L786 247.2L786 248.3L786.5 249.1L786.6 249.7L787.3 251.9L787.2 252.1L788 252L788.4 253.1L788.7 254.6L789.1 254.8L789.3 256.1L789.7 257L790.1 257.3L790.2 258.3L790.9 258.6L791.5 260.6L791.7 260.4L792.1 261.2L792.3 262.9L792.6 263.8L793.3 263.9L793.7 264.8L794.1 267L794.4 266.4L794.7 267.8L795.4 268.2L795.7 270.8L796 271.3L796.1 272.5L796.6 273.3L797.2 272.6L797.5 275L797.5 274.7L798.3 275.2L798.7 276.2L799.1 276.8L799.2 279.2L799.4 278.7L800 279.7L800.1 280.3L800.5 282.8L801.2 283.6L801.3 284.2L801.6 284.6L802.3 285L802.8 286.1L803.2 287.7L803.4 288.9L804.2 288.5L804.8 289.1L805.4 290.4L805.5 291.5L806.1 290.9L806.7 291.3L807.3 292.3L807.7 294.3L808.1 294.4L808.5 293.8L808.8 294.9L809.7 296.2L810.1 297.8L810.4 297.2L811.2 297.3L811.4 298.6L812 299.2L812.6 300.2L813.4 300L814 301L814.3 302.8L815 302L815.4 303.8L816.5 305L816.8 304.8L817.1 306.4L818 306.5L818.6 307.5L819.4 308.8L819.5 310L819.9 309.9L820.6 310L820.8 312L821.2 312.4L822.3 312.5L822.3 314.3L822.9 315.3L823.6 315.3L823.7 316.3L824 318.3L824.9 318.8L824.9 319.8L825.8 319.8L826.3 320.6L826.4 320.5L826.8 321L827.3 323L827.9 323.8L828.3 323.1L828.8 324.3L829.4 325.5L829.6 326.7L830.5 326.9L830.8 327.4L830.9 328.8L831.6 331.1L832.1 330.7L832.6 331.5L832.7 333.3L833.5 333.5L834.1 334.5L834.6 334.4L835.3 334.3L835.8 333.8L836.6 332.5L837.1 332.5L837.8 332.4L838.6 329.9L839.3 331.2L840.2 329.1L840.9 328.3L842.1 329L842.9 328.7L843.4 328L844.4 327.9L845.5 327.6L845.9 327.1L847.3 326.9L847.7 325.1L848.6 324.5L849.9 325.8L850.7 325.6L851.6 324.3L852.3 323.8L853.6 323.9L854.3 324.2L855 323.8L856.1 324.7L857.1 323.9L858.4 324.2L859.2 324.5L859.6 324.1L860.7 325.1L861.5 325.3L862.5 324.6L863.6 324.7L864.5 325.3L864.9 325.7L866.2 327.3L866.6 326.4L867.8 327.2L868.4 326.7L869.3 327.6L870 328L870.8 327L871.8 328.1L872.1 328.9L872.7 329.9L873.7 330.6L874.2 330.5L874.6 331.4L875.4 331.6L876 332.3L876.1 333.6L877.1 334.9L877.4 336.4L877.9 336.4L878.8 337.7L879.7 338.2L880.1 338.2L880.8 339.8L881.9 340.1L882.5 339.7L883.7 340.1L884.2 340.1L885.5 339.7L886 340L887.3 341.2L887.8 340.2L888.8 341L889.8 341L890.6 341.5L891.8 343L892.1 343.9L893 343.2L894.4 344.5L895.1 344.3L895.6 345.1L896.3 344.8L897.3 344.9L898.1 346.9L899.1 346.9L899.9 347.3L900.4 348L901.3 348.8L902.4 348.6L903 349.5L903.8 348.8L904.9 350.4L905.8 350.3L906.7 350.5L907.4 350.3L908.1 350.9L908.9 350.8L910.1 351.5L911 350.7L911.7 351.2L912.8 351.1L913.8 351.9L914.3 351L915.5 350.2L916.1 350.9L916.7 349.6L917.6 349.6L918.9 348.8L919.3 348.5L920.4 348.4L921.3 347.9L922.4 347.2L923 347.7L923.7 346.7L924.7 346.4L925.4 346.4L926.4 344.1L927.2 344.4L927.8 344.1L928.9 344.4L929.6 343.3L930.3 344L931.6 343.3L931.9 343.5L932.8 342.1L933.5 342.8L934.7 342.2L935.3 341.6L935.9 342L936.8 341L937.9 341L938.5 339.3L939.3 338.4L940.3 338.2L941.1 337.4L941.7 336.8L942.5 336.1L943.1 336.8L944.1 335.5L944.9 335.7L945.8 335.6L946.7 334.7L947.7 335.3L948 334.9L949.3 334.4L949.6 334.1L950.7 332L951.1 333.4L952.2 331.5L952.5 330.7L953.3 331.5L954 329.7L955 330.4L955.1 330L956 329.2L956.7 328.8L957.3 328.2L957.6 327.3L958.4 326.8L958.9 326.5L959.6 324.6L960 323.7L960.8 322.9L961.4 322.4L962.1 322.5L962.8 322.5L963.1 321.9L964 320.7L964.7 320.5L965.1 318.9L966.1 317.5L966.6 317.9L966.8 317L967.9 316.9L968.3 316.3L969.1 314.6L970 312.9L970.5 313.3L970.9 313.1L971.6 311.8L972.4 311.8L972.8 310.6L973.6 310.4L974.5 309.4L975.2 309.1L975.6 308.3L976.4 309.1L977.2 308.1L977.8 306.5L978.6 306.4L979.5 306.2L980 305.6L981.3 304.7L981.5 303.7L982.3 303.1L983.6 303.4L984.2 303.4L985.1 302.7L985.7 302.4L986.5 302L987.2 300.9L987.9 301.2L988.7 300.2L989.3 299.6L990.5 301L991.4 299.5L992.3 300.1L993 298.8L993.7 298.9L994.5 298.8L995.6 299.7L996.1 298.8L997 297.8L998.3 298.5L999.4 298.1L999.7 297.9L1000.9 299L1002 298L1002.6 297.2L1003.6 297.4L1004.3 297L1005.1 298.4L1006.1 298.9L1007.1 298.7L1008 296.9L1009.3 297.3L1010.3 297.1L1010.8 297.9L1012.1 297.8L1013 295.9L1013.8 296.7L1014.6 296.8L1015.3 296.4L1016.5 294.5L1016.9 295.7L1018.3 294.5L1018.9 295.8L1019.6 296L1020.7 294.3L1021.5 294.9L1022.3 294.8L1023 294.7L1023.9 294L1024.9 293.2L1025.6 293.5L1026.8 293.1L1027.5 291.7L1028 292.6L1029.2 291.8L1029.8 290.9L1031 290.9L1031.5 289.4L1032.2 290.1L1033 289.2L1033.9 289.3L1034.9 287.8L1035.2 287.5L1036.3 287.9L1037.4 288.3L1037.9 288.1L1039.2 288.1L1039.9 286.9L1040.9 288L1041.7 288.4L1042.4 286.9L1043.4 288.5L1044.1 288.6L1045.5 287.8L1046.3 288.8L1047 287.9L1047.8 289.1L1049 288.6L1049.5 289.4L1050.8 288.4L1051.6 289.8L1052.7 289.4L1053.4 289.9L1054.2 289.4L1055.1 290.7L1056.1 290.7L1057.1 290.9L1057.9 289.8L1059.3 290.4L1059.7 290.7L1061 289.5L1061.8 289.7L1062.7 288.7L1063.3 290.5L1064.7 289.4L1065.4 288.7L1066.5 288.9L1067.5 289.4L1068.3 289.6L1068.9 287.5L1069.8 287.7L1070.6 287.3L1071.8 288.8L1072.7 288.8L1073.9 287L1074.6 287.5L1075.2 288.5L1076.2 287.5L1077.4 288.2L1078.3 286.9L1079.1 286.3L1080.3 287.8L1080.8 285.8L1081.7 286.3L1083 287.3L1083.9 285.5L1084.8 286.7L1085.6 286.9L1086 285L1087.3 286.2L1088 284.6L1088.7 285.2L1089.2 284L1090.1 283.3L1091.1 283.1L1091.8 282.8L1092.9 282.3L1093.9 282.4L1094.5 283.6L1095.7 283.5L1097.2 283.3L1097.5 282.3L1098.3 283.2L1099.5 282.6L1100.1 281.9L1101.2 282L1102 281.2L1102.7 280.9L1103.9 281.8L1104.5 282.3L1105.6 281.3L1106.5 281L1107.9 281.1L1108.5 281.4L1109.5 282.2L1110.4 282.4L1111.3 282.2L1112.6 280.8L1113.4 280.8L1114.2 280.6L1115.1 282.1L1116.4 282L1116.6 280.7L1117.9 280.6L1118.5 281.5L1119.6 281.4L1120.4 282.7L1120.9 282.8L1122.1 284.6L1122.5 285L1123.7 285.1L1124.2 285.6L1124.7 287.5L1125.7 287.1L1126 287.5L1127 288.9L1127.4 288.8L1128.3 290.3L1129 290.5L1129.2 289.8L1130.2 290.7L1130.7 290.3L1131.4 291L1132.2 292L1132.6 290.1L1133.4 290.7L1133.9 289.7L1134 290.2L1134.6 288.2L1135.1 288.3L1135.4 287.3L1136.2 286.5L1136.7 286.2L1137.9 285.8L1138.5 284.9L1139.6 284.6L1140.1 284.6L1141.3 283.7L1141.8 283.6L1142.5 282.4L1143.6 282.6L1144 282.2L1144.8 283.5L1145.6 281.9L1146.9 282L1147.4 282.9L1148.7 282.9L1149.7 282.2L1150.8 283.5L1151.3 282.5L1152.5 283.4L1153.4 282.6L1154.4 282.6L1155.5 284.1L1156.2 283.5L1157.5 282.6L1158.5 284.1L1159.2 282.9L1160.4 282.9L1161 283.4L1162.2 282L1162.7 281.7L1163.7 282.7L1164.9 282.4L1165.7 282.2L1166.2 281.3L1167.6 282L1168.1 280.8L1169.2 280.6L1170 279.7L1170.9 280.3L1171.5 279.3L1173 280.3L1173.9 279.7L1174.7 280L1175.6 278.1L1176.4 278.5L1177.3 278.4L1178.1 279.5L1179 278.1L1179.8 278.4L1181 278.1L1181.5 278.8L1182.3 278.7L1183.7 278.6L1184.2 278.6L1185.2 278.1L1185.9 278.1L1186.9 278.7L1187.8 278.5L1188.6 279.2L1190 279.4L1190.7 279.6L1191.4 280L1192.5 280L1193.5 280.1L1194.2 280L1195.1 280.8L1196.1 281.2L1196.7 280.7L1198.1 280.4L1198.8 280.9L1199.5 281.8L1200.4 281.2L1201.1 279.7L1202.4 280.4L1202.7 280.3L1203.8 280.9L1204.5 279.8L1206 280.7L1206.4 279.7L1207.4 280.4L1208.4 280.9L1209.4 280.2L1210.2 280.7L1211.1 280.2L1212 280.6L1212.9 279.1L1213.7 278.4L1214.4 279.2L1215.1 279.6L1215.9 278.1L1216.9 278.7L1217.6 277.3L1218.3 277.1L1219.3 276.5L1220 276.7L1220.8 276L1222 276.8L1222.7 275.9L1223.5 275.6L1224.4 276.2L1225.6 275.2L1226.7 275.7L1227.6 276.7L1228.6 275.2L1229.2 276.4L1229.9 274.5L1231.1 275.1L1232.3 275.5L1232.9 275.7L1233.8 274.8L1234.8 274.5L1235.4 275L1236.3 275.7L1237.3 274.8L1237.8 274.5L1238.9 274.7L1240 275.2L1241.2 274.2L1241.8 274.2L1243.1 273.3L1243.7 274L1244.4 272.5L1245.7 273.1L1246.3 271.3L1247.3 272.1L1248.1 272.4L1248.9 271L1249.2 270.5L1250.2 270.9L1250.7 270.2L1251.7 271.2L1252.2 272.4L1253 271L1253.4 273L1253.8 273.4L1254.1 273.3L1255.1 274.6L1255.5 274.5L1256 275.8L1256.5 276.7L1257.4 277.9L1258.4 277.2L1259.2 276.9L1260.2 276.9L1260.5 277.1L1261.5 278.3L1262.3 278.1L1262.8 276.4L1264 276.8L1264.8 276.7L1265.4 276.3L1266.2 277.5L1267.5 276.4L1268.3 276.4L1269 277.3L1270.3 277.4L1271.2 276.6L1272.1 275.1L1273.5 276.4L1274.1 276.2L1275.3 274.7L1276.2 275.7L1277.1 275.3L1277.9 274.1L1279.1 273.6L1279.8 274.8L1280.8 274.5L1281.5 273.2L1282.5 273.1L1283.7 273L1284.4 272.4L1285.3 272.7L1286.1 271.8L1286.8 273.1L1287.8 271.6L1288.6 271.5L1289.5 270.9L1290.7 271.3L1291.2 271.9L1292.1 270.9L1293.4 270.4L1294.1 271.9L1295.2 270.5L1295.8 271.7L1296.7 272.2L1297.5 272.2L1298.5 270.8L1299.4 270.5L1300.4 270.7L1301.5 271.3L1302 270.6L1303.1 270.4L1304.1 270.2L1304.8 270.9L1305.6 271.3L1306.6 270.9L1307.6 270.2L1308.4 269.6L1309.2 271L1310.2 270.6L1311 270.3L1312.1 270.1L1312.9 269.2L1313.9 269.4L1314.7 270.3L1315.7 269.7L1316.9 270.3L1317.8 270.4L1318.2 269.2L1319 269.9L1320.3 269.1L1321 269.6L1322 268.6L1322.9 268.6L1323.6 268.1L1324.2 269.3L1325.5 268.6L1326 266.8L1326.9 266.7L1327.9 266.6L1328.5 266L1329.7 265.2L1330.6 265.5L1331.4 264.6L1332 265.1L1332.8 263.5L1333.9 264.7L1334.3 263L1335.5 263.8L1335.9 262.7L1336.7 263.4L1337.7 263.3L1338.9 261.4L1339.8 261.7L1340.7 262.3L1341.3 260.6L1342.5 261.1L1343.3 261.4L1344.1 261.5L1344.9 260.5L1345.4 260.8L1346.5 260.4L1347.7 259.6L1348.5 259.3L1349.3 260.8L1350 260.3L1351.3 260.4L1352 259.7L1352.6 259.9L1353.7 259.7L1354.6 259.6L1355.8 260.7L1356.4 259.9L1357.5 260.3L1358.7 260.1L1359.2 261.2L1360 260.5L1361 261.1L1362 260.9L1362.7 260.9L1363.9 260.6L1364.9 261.5L1365.4 260.5L1366.4 260.5L1367.2 260.8L1368.2 261.8L1369.2 260.7L1370.1 261.6L1371 261.1L1371.8 260.9L1373.2 262.5L1373.6 262.4L1375 262L1375.4 261.8L1376.5 261.1L1377.5 260.7L1378.6 261.9L1379.2 262.6L1380.1 261.4L1380.7 261.4L1381.4 262.8L1382.7 262L1383.1 262.9L1384.5 263.5L1385 263.3L1386.3 263.2L1386.9 262.2L1388.1 262.5L1388.7 263L1389.5 263.6L1390.3 262L1391.3 263.2L1392.2 263.4L1393.1 263.9L1393.7 263L1394.3 262.4L1395.4 261.8L1396.4 261.8L1397.1 263.2L1397.8 261.1L1399 261.2L1400.1 260.7L1401 262.2L1401.8 261.2L1402.3 261.5L1403.3 260.8L1404.1 260.7L1405.1 261.3L1406.1 259.8L1406.7 260.1L1407.7 259.8L1408.4 259L1409.4 259.6L1410.7 260.3L1411.6 260.2L1412.5 259.2L1413.4 257.9L1414.2 258.8L1414.9 258.5L1416.2 258.1L1417 257.5L1417.7 258.5L1418.4 257L1419.7 257.3L1420.3 257.6L1421.3 257.4L1422.2 257.3L1423.2 257L1423.8 256.6L1425.2 257.3L1425.6 257.9L1426.6 256.4L1427.6 256.6L1428.5 257.2L1429.2 257.2L1430 257.1L1431.2 256.2L1432 256.1L1432.9 257.6L1433.9 257.2L1434.9 255.9L1435.9 257L1436.2 257.2L1437.3 255.7L1438.5 256.3L1439.3 255.3L1440.2 255L1440.8 255.4L1441.5 255.7L1442.5 255.1L1443.7 255.3L1444.7 255.7L1445.6 255.6L1446.5 256.2L1446.9 255.9L1447.8 256L1448.9 256.1L1449.4 255.2L1450.7 256.3L1451.5 254.5L1452.3 254.6L1453.2 255.8L1453.8 255.8L1455 254.2L1455.6 254.4L1456.9 254.4L1457.3 253.1L1458.2 254.7L1459.2 254.4L1460.2 254.7L1461.2 253.8L1462.4 254.7L1463.2 255.3L1464.4 253.8L1464.9 254L1465.8 255.5L1466.9 253.8L1467.5 255.4L1468.7 254.6L1469.6 254L1470.8 254.4L1471.8 254.7L1472.3 254L1473.4 255.1L1474.6 253.3L1475.4 253.8L1476.5 254.2L1477.5 253.6L1478.3 254L1479.5 252.8L1480.5 254.7L1481.2 252.9L1482.5 253.1L1483.2 253.4L1484.1 253.4L1485.1 254.1L1486.3 252.2L1486.8 253.6L1487.8 253.5L1488.4 253.2L1488.9 252.5L1489.9 253.6L1491.3 253.3L1492 253.9L1493.3 253.9L1494.2 254.1L1494.9 254.8L1495.4 255.3L1496.2 257.2L1497 256.2L1497.4 256.3L1498.1 256.3L1498.6 258L1499.6 257.2L1500.4 256.9L1501.1 256.6L1501.9 257.1L1503 257.6L1503.8 257L1504.6 257.3L1504.8 256.3L1505.9 257.7L1506.7 257L1507.6 257L1508.4 256.1L1510.1 255.7L1511 255.3L1511.6 255.7L1512.6 255.6L1513.2 255.5L1514.1 256.8L1515 255.5L1515.8 257.1L1516.6 255.6L1517.6 257.4L1518.3 256.1L1519.1 257.2L1520.4 257.7L1521.4 257.1L1522 258.6L1523.1 258.3L1524.1 258.6L1524.7 259.2L1525.7 260L1526.8 260.2L1527.9 259.9L1528.8 259.6L1530 260.9L1531 260L1531.7 261.5L1532.4 260.3L1533.2 260.5L1534.4 260.4L1535.4 261.1L1536.1 261.4L1537 261.6L1537.9 260.9L1538.9 260.9L1539.7 262.1L1540.7 261.3L1541.5 262.8L1542.2 261.5L1543.2 262.9L1543.8 261.2L1544.9 262.6L1546 262.2L1547 262.1L1547.7 261.9L1548.2 262.1L1549.1 263.2L1550.3 262.8L1551.4 263.5L1551.8 263.4L1553.1 265.2L1553.6 263.7L1554.9 264.2L1555.9 264.8L1556.6 264.5L1557.6 264.7L1558.3 265.7L1559.1 265.3L1560 265L1561.2 265.3L1561.9 264.6L1563.1 265.1L1564.4 264.4L1564.9 263.5L1565.8 264.1L1566.7 263.8L1568 264.9L1568.6 265.8L1569.4 265.2L1570.2 266L1571.5 264.9L1572.3 266.1L1572.8 265.2L1573.7 266.4L1574.3 266.1L1575.3 265.8L1576.4 266.7L1577.2 266.8L1578.3 266.7L1579.6 265.7L1580.6 267.5L1581.1 265.7L1581.9 267.8L1582.7 267.9L1583.5 267.7L1584.3 266.7L1585.4 266.7L1585.9 268.5L1586.8 268.6L1587.6 267.1L1587.8 268.8L1589.3 267.4L1590.2 267.6L1590.9 267L1591.4 268.3L1592.3 267.7L1593.1 266.7L1594.2 266.7L1594.8 267.3L1595.4 267.6L1596.2 266.7L1596.7 267.9L1597.7 268.1L1598 269.8L1599 269.8L1599.4 269.3L1600.2 269.8L1600.9 271.5L1602 272.4L1602.9 272L1604.1 274L1605.1 274.5L1605.9 275.4L1606.8 275L1607.3 274.3L1608.1 275.7L1608.9 274.5L1609.8 274.1L1611.1 273.9L1611.8 275.9L1612.6 275.3L1613.6 274.7L1614.5 274.5L1615.9 275.9L1616.9 274.7L1617.8 275.4L1618.7 276.1L1619.5 277.2L1620.3 276.9L1621.7 276.7L1622.5 277.7L1623.1 277L1624.3 276.5L1625.1 276.6L1625.8 277.1L1626.6 276.5L1627.6 277.4L1628.4 278L1629.3 279.1L1630.3 279.2L1631.2 279.3L1631.9 279.1L1633.1 280.3L1633.6 280.7L1634.5 280.6L1634.8 282.2L1635.7 282.3L1636.6 283.2L1637.4 281.7L1637.8 283.6L1638.8 282.4L1639.1 282.9L1639.9 283.4L1641.2 284L1641.8 283.7L1642.6 286L1643.6 285.4L1644.2 286.6L1645.2 285.7L1645.9 286.6L1646.6 286.8L1647.3 287.4L1648.2 287.1L1648.9 288.5L1649.7 288L1651 288.4L1651.7 288.5L1652.9 288.4L1653.7 290.1L1654.4 289.3L1655.7 289.8L1656.4 288.7L1657.4 289.4L1658.6 289.4L1659.3 290.2L1660.5 289.6L1661.2 290L1662.4 289.2L1663.3 290L1663.8 289.5L1664.6 288L1665.6 288.1L1666.3 287.9L1667.3 287.8L1667.6 287.1L1668.6 286.3L1669.6 285.8L1670.1 286.2L1670.8 284.9L1671.6 285.1L1672.3 284.3L1672.8 282.3L1673.6 282.7L1674.4 282.5L1674.8 280.6L1675.5 281L1676.2 279L1677.2 279.4L1677.4 279.1L1678.4 278.3L1678.5 278.2L1679.2 277.7L1680 277.5L1680 276"/>
</g>
<g id="arrows">
<line class="ar" x1="454.7" y1="509.8" x2="507.3" y2="227.4"/>
<polygon points="517.5,172.3 521,229.9 493.5,224.8" fill="#000"/>
<line class="ar" x1="453.5" y1="758.5" x2="570.2" y2="227"/>
<polygon points="582.2,172.3 583.9,230 556.5,224" fill="#000"/>
<line class="ar" x1="463.5" y1="1006.3" x2="609.3" y2="224.6"/>
<polygon points="619.6,169.5 623.1,227.1 595.6,222" fill="#000"/>
<line class="ar" x1="1604.3" y1="607.2" x2="1703.5" y2="226.3"/>
<polygon points="1717.6,172.1 1717,229.8 1689.9,222.8" fill="#000"/>
</g>
<g id="legend">
<line x1="1449.7" y1="1014.1" x2="1494.6" y2="1014.1" stroke="#ff0000" stroke-width="13.2" stroke-linecap="round"/>
<text class="lg" x="1522" y="1033.1">PVNiMC0</text>
<line x1="1449.7" y1="1084.6" x2="1494.6" y2="1084.6" stroke="#0000ff" stroke-width="13.2" stroke-linecap="round"/>
<text class="lg" x="1522" y="1103.6">PVNiMC1</text>
<line x1="1449.7" y1="1154.9" x2="1494.6" y2="1154.9" stroke="#ff0080" stroke-width="13.2" stroke-linecap="round"/>
<text class="lg" x="1522" y="1173.9">PVNiMC2</text>
<line x1="1449.7" y1="1225.6" x2="1494.6" y2="1225.6" stroke="#000080" stroke-width="13.2" stroke-linecap="round"/>
<text class="lg" x="1522" y="1244.6">PVNiMC3</text>
</g>
<g id="labels">
<text class="tk" x="214" y="130.2" text-anchor="middle">1.0</text>
<text class="tk" x="346.6" y="130.2" text-anchor="middle">1.5</text>
<text class="tk" x="479.2" y="130.2" text-anchor="middle">2.0</text>
<text class="tk" x="611.8" y="130.2" text-anchor="middle">2.5</text>
<text class="tk" x="744.3" y="130.2" text-anchor="middle">3.0</text>
<text class="tk" x="876.9" y="130.2" text-anchor="middle">3.5</text>
<text class="tk" x="1009.5" y="130.2" text-anchor="middle">4.0</text>
<text class="tk" x="1142.1" y="130.2" text-anchor="middle">4.5</text>
<text class="tk" x="1274.7" y="130.2" text-anchor="middle">5.0</text>
<text class="tk" x="1407.2" y="130.2" text-anchor="middle">5.5</text>
<text class="tk" x="1539.8" y="130.2" text-anchor="middle">6.0</text>
<text class="tk" x="1672.4" y="130.2" text-anchor="middle">6.5</text>
<text class="tk" x="1805" y="130.2" text-anchor="middle">7.0</text>
<text class="tk" x="178.3" y="332.9" text-anchor="end">-1.0</text>
<text class="tk" x="178.3" y="504.7" text-anchor="end">-1.5</text>
<text class="tk" x="178.3" y="676.5" text-anchor="end">-2.0</text>
<text class="tk" x="178.3" y="848.4" text-anchor="end">-2.5</text>
<text class="tk" x="178.3" y="1020.2" text-anchor="end">-3.0</text>
<text class="tk" x="178.3" y="1192" text-anchor="end">-3.5</text>
<text class="tk" x="178.3" y="1363.8" text-anchor="end">-4.0</text>
<text x="830.5" y="73.4">Energy <tspan font-style="italic">hv</tspan> (eV)</text>
<text x="883.8" y="1424.6">Energy <tspan font-style="italic">hv</tspan> (eV)</text>
<text transform="translate(39.4,748.8) rotate(-90)">ln(A)</text>
<text x="289.6" y="395" style="font-size:82px">(c)</text>
<text x="767" y="452">E</text>
<text x="948.5" y="645">CB</text>
<text x="967" y="1088.5">VB</text>
<text x="1190.5" y="879.5" fill="#1e3cff" style="fill:#1e3cff">E<tspan dy="16.5">g</tspan></text>
<text x="455.5" y="1068" style="fill:#66003a;font-style:italic;font-size:57px">Urbach Tail</text>
</g>
</svg>
</body>
</html>
